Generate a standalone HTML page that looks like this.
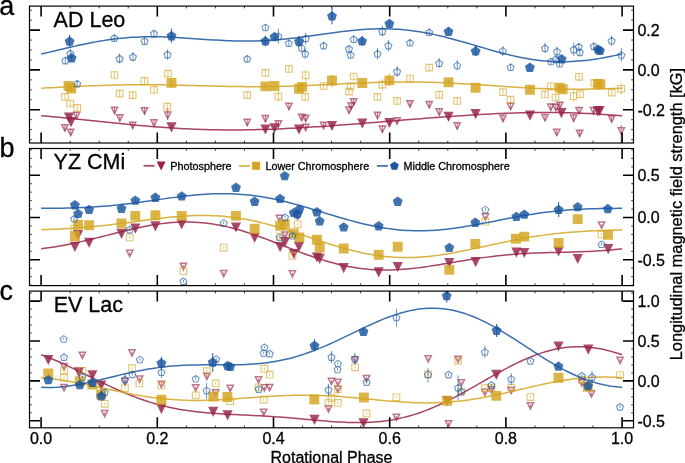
<!DOCTYPE html><html><head><meta charset="utf-8"><style>html,body{margin:0;padding:0;background:#fff;}svg{display:block;}text{font-family:"Liberation Sans",sans-serif;fill:#000;stroke:#000;stroke-width:0.3px;}</style></head><body>
<svg width="685" height="463" viewBox="0 0 685 463">
<rect width="685" height="463" fill="#fff"/>
<clipPath id="clipA"><rect x="29.5" y="6.1" width="604" height="136.9"/></clipPath>
<g clip-path="url(#clipA)">
<path d="M73.55 112.35L79.85 112.35L76.7 118.65Z" fill="none" stroke="#962347" stroke-opacity="0.62" stroke-width="1.5" stroke-linejoin="miter"/>
<path d="M76.7 112.2V118.8" stroke="#962347" stroke-opacity="0.62" stroke-width="1"/>
<path d="M61.75 124.65L68.05 124.65L64.9 130.95Z" fill="none" stroke="#962347" stroke-opacity="0.62" stroke-width="1.5" stroke-linejoin="miter"/>
<path d="M64.9 124.5V131.1" stroke="#962347" stroke-opacity="0.62" stroke-width="1"/>
<path d="M67.55 129.15L73.85 129.15L70.7 135.45Z" fill="none" stroke="#962347" stroke-opacity="0.62" stroke-width="1.5" stroke-linejoin="miter"/>
<path d="M70.7 129V135.6" stroke="#962347" stroke-opacity="0.62" stroke-width="1"/>
<path d="M111.35 107.15L117.65 107.15L114.5 113.45Z" fill="none" stroke="#962347" stroke-opacity="0.62" stroke-width="1.5" stroke-linejoin="miter"/>
<path d="M114.5 107V113.6" stroke="#962347" stroke-opacity="0.62" stroke-width="1"/>
<path d="M116.65 114.75L122.95 114.75L119.8 121.05Z" fill="none" stroke="#962347" stroke-opacity="0.62" stroke-width="1.5" stroke-linejoin="miter"/>
<path d="M119.8 114.6V121.2" stroke="#962347" stroke-opacity="0.62" stroke-width="1"/>
<path d="M129.55 122.15L135.85 122.15L132.7 128.45Z" fill="none" stroke="#962347" stroke-opacity="0.62" stroke-width="1.5" stroke-linejoin="miter"/>
<path d="M132.7 122V128.6" stroke="#962347" stroke-opacity="0.62" stroke-width="1"/>
<path d="M141.35 107.65L147.65 107.65L144.5 113.95Z" fill="none" stroke="#962347" stroke-opacity="0.62" stroke-width="1.5" stroke-linejoin="miter"/>
<path d="M144.5 107.5V114.1" stroke="#962347" stroke-opacity="0.62" stroke-width="1"/>
<path d="M150.85 119.85L157.15 119.85L154 126.15Z" fill="none" stroke="#962347" stroke-opacity="0.62" stroke-width="1.5" stroke-linejoin="miter"/>
<path d="M154 119.7V126.3" stroke="#962347" stroke-opacity="0.62" stroke-width="1"/>
<path d="M164.55 111.95L170.85 111.95L167.7 118.25Z" fill="none" stroke="#962347" stroke-opacity="0.62" stroke-width="1.5" stroke-linejoin="miter"/>
<path d="M167.7 108V120" stroke="#962347" stroke-opacity="0.62" stroke-width="1"/>
<path d="M244.05 119.35L250.35 119.35L247.2 125.65Z" fill="none" stroke="#962347" stroke-opacity="0.62" stroke-width="1.5" stroke-linejoin="miter"/>
<path d="M247.2 119.2V125.8" stroke="#962347" stroke-opacity="0.62" stroke-width="1"/>
<path d="M262.25 115.55L268.55 115.55L265.4 121.85Z" fill="none" stroke="#962347" stroke-opacity="0.62" stroke-width="1.5" stroke-linejoin="miter"/>
<path d="M265.4 115.4V122" stroke="#962347" stroke-opacity="0.62" stroke-width="1"/>
<path d="M285.75 103.25L292.05 103.25L288.9 109.55Z" fill="none" stroke="#962347" stroke-opacity="0.62" stroke-width="1.5" stroke-linejoin="miter"/>
<path d="M288.9 103.1V109.7" stroke="#962347" stroke-opacity="0.62" stroke-width="1"/>
<path d="M298.55 114.15L304.85 114.15L301.7 120.45Z" fill="none" stroke="#962347" stroke-opacity="0.62" stroke-width="1.5" stroke-linejoin="miter"/>
<path d="M301.7 114V120.6" stroke="#962347" stroke-opacity="0.62" stroke-width="1"/>
<path d="M302.55 115.15L308.85 115.15L305.7 121.45Z" fill="none" stroke="#962347" stroke-opacity="0.62" stroke-width="1.5" stroke-linejoin="miter"/>
<path d="M305.7 115V121.6" stroke="#962347" stroke-opacity="0.62" stroke-width="1"/>
<path d="M275.25 120.75L281.55 120.75L278.4 127.05Z" fill="none" stroke="#962347" stroke-opacity="0.62" stroke-width="1.5" stroke-linejoin="miter"/>
<path d="M278.4 120.6V127.2" stroke="#962347" stroke-opacity="0.62" stroke-width="1"/>
<path d="M302.55 124.25L308.85 124.25L305.7 130.55Z" fill="none" stroke="#962347" stroke-opacity="0.62" stroke-width="1.5" stroke-linejoin="miter"/>
<path d="M305.7 124.1V130.7" stroke="#962347" stroke-opacity="0.62" stroke-width="1"/>
<path d="M320.45 122.15L326.75 122.15L323.6 128.45Z" fill="none" stroke="#962347" stroke-opacity="0.62" stroke-width="1.5" stroke-linejoin="miter"/>
<path d="M323.6 122V128.6" stroke="#962347" stroke-opacity="0.62" stroke-width="1"/>
<path d="M350.55 98.85L356.85 98.85L353.7 105.15Z" fill="none" stroke="#962347" stroke-opacity="0.62" stroke-width="1.5" stroke-linejoin="miter"/>
<path d="M353.7 98.7V105.3" stroke="#962347" stroke-opacity="0.62" stroke-width="1"/>
<path d="M348.15 102.85L354.45 102.85L351.3 109.15Z" fill="none" stroke="#962347" stroke-opacity="0.62" stroke-width="1.5" stroke-linejoin="miter"/>
<path d="M351.3 102.7V109.3" stroke="#962347" stroke-opacity="0.62" stroke-width="1"/>
<path d="M345.85 107.05L352.15 107.05L349 113.35Z" fill="none" stroke="#962347" stroke-opacity="0.62" stroke-width="1.5" stroke-linejoin="miter"/>
<path d="M349 106.9V113.5" stroke="#962347" stroke-opacity="0.62" stroke-width="1"/>
<path d="M374.35 112.35L380.65 112.35L377.5 118.65Z" fill="none" stroke="#962347" stroke-opacity="0.62" stroke-width="1.5" stroke-linejoin="miter"/>
<path d="M377.5 112.2V118.8" stroke="#962347" stroke-opacity="0.62" stroke-width="1"/>
<path d="M379.25 126.05L385.55 126.05L382.4 132.35Z" fill="none" stroke="#962347" stroke-opacity="0.62" stroke-width="1.5" stroke-linejoin="miter"/>
<path d="M382.4 125.9V132.5" stroke="#962347" stroke-opacity="0.62" stroke-width="1"/>
<path d="M393.95 117.65L400.25 117.65L397.1 123.95Z" fill="none" stroke="#962347" stroke-opacity="0.62" stroke-width="1.5" stroke-linejoin="miter"/>
<path d="M397.1 117.5V124.1" stroke="#962347" stroke-opacity="0.62" stroke-width="1"/>
<path d="M406.85 100.65L413.15 100.65L410 106.95Z" fill="none" stroke="#962347" stroke-opacity="0.62" stroke-width="1.5" stroke-linejoin="miter"/>
<path d="M410 100.5V107.1" stroke="#962347" stroke-opacity="0.62" stroke-width="1"/>
<path d="M426.05 101.45L432.35 101.45L429.2 107.75Z" fill="none" stroke="#962347" stroke-opacity="0.62" stroke-width="1.5" stroke-linejoin="miter"/>
<path d="M429.2 101.3V107.9" stroke="#962347" stroke-opacity="0.62" stroke-width="1"/>
<path d="M436.05 108.85L442.35 108.85L439.2 115.15Z" fill="none" stroke="#962347" stroke-opacity="0.62" stroke-width="1.5" stroke-linejoin="miter"/>
<path d="M439.2 108.7V115.3" stroke="#962347" stroke-opacity="0.62" stroke-width="1"/>
<path d="M454.05 122.85L460.35 122.85L457.2 129.15Z" fill="none" stroke="#962347" stroke-opacity="0.62" stroke-width="1.5" stroke-linejoin="miter"/>
<path d="M457.2 122.7V129.3" stroke="#962347" stroke-opacity="0.62" stroke-width="1"/>
<path d="M499.85 115.15L506.15 115.15L503 121.45Z" fill="none" stroke="#962347" stroke-opacity="0.62" stroke-width="1.5" stroke-linejoin="miter"/>
<path d="M503 115V121.6" stroke="#962347" stroke-opacity="0.62" stroke-width="1"/>
<path d="M507.45 103.25L513.75 103.25L510.6 109.55Z" fill="none" stroke="#962347" stroke-opacity="0.62" stroke-width="1.5" stroke-linejoin="miter"/>
<path d="M510.6 103.1V109.7" stroke="#962347" stroke-opacity="0.62" stroke-width="1"/>
<path d="M541.85 114.55L548.15 114.55L545 120.85Z" fill="none" stroke="#962347" stroke-opacity="0.62" stroke-width="1.5" stroke-linejoin="miter"/>
<path d="M545 114.4V121" stroke="#962347" stroke-opacity="0.62" stroke-width="1"/>
<path d="M547.65 104.05L553.95 104.05L550.8 110.35Z" fill="none" stroke="#962347" stroke-opacity="0.62" stroke-width="1.5" stroke-linejoin="miter"/>
<path d="M550.8 103.9V110.5" stroke="#962347" stroke-opacity="0.62" stroke-width="1"/>
<path d="M552.65 104.25L558.95 104.25L555.8 110.55Z" fill="none" stroke="#962347" stroke-opacity="0.62" stroke-width="1.5" stroke-linejoin="miter"/>
<path d="M555.8 104.1V110.7" stroke="#962347" stroke-opacity="0.62" stroke-width="1"/>
<path d="M556.65 102.15L562.95 102.15L559.8 108.45Z" fill="none" stroke="#962347" stroke-opacity="0.62" stroke-width="1.5" stroke-linejoin="miter"/>
<path d="M559.8 102V108.6" stroke="#962347" stroke-opacity="0.62" stroke-width="1"/>
<path d="M570.55 114.95L576.85 114.95L573.7 121.25Z" fill="none" stroke="#962347" stroke-opacity="0.62" stroke-width="1.5" stroke-linejoin="miter"/>
<path d="M573.7 114.8V121.4" stroke="#962347" stroke-opacity="0.62" stroke-width="1"/>
<path d="M575.85 107.55L582.15 107.55L579 113.85Z" fill="none" stroke="#962347" stroke-opacity="0.62" stroke-width="1.5" stroke-linejoin="miter"/>
<path d="M579 107.4V114" stroke="#962347" stroke-opacity="0.62" stroke-width="1"/>
<path d="M590.35 107.55L596.65 107.55L593.5 113.85Z" fill="none" stroke="#962347" stroke-opacity="0.62" stroke-width="1.5" stroke-linejoin="miter"/>
<path d="M593.5 107.4V114" stroke="#962347" stroke-opacity="0.62" stroke-width="1"/>
<path d="M608.55 115.65L614.85 115.65L611.7 121.95Z" fill="none" stroke="#962347" stroke-opacity="0.62" stroke-width="1.5" stroke-linejoin="miter"/>
<path d="M611.7 115.5V122.1" stroke="#962347" stroke-opacity="0.62" stroke-width="1"/>
<path d="M553.65 129.35L559.95 129.35L556.8 135.65Z" fill="none" stroke="#962347" stroke-opacity="0.62" stroke-width="1.5" stroke-linejoin="miter"/>
<path d="M556.8 129.2V135.8" stroke="#962347" stroke-opacity="0.62" stroke-width="1"/>
<path d="M576.45 130.15L582.75 130.15L579.6 136.45Z" fill="none" stroke="#962347" stroke-opacity="0.62" stroke-width="1.5" stroke-linejoin="miter"/>
<path d="M579.6 130V136.6" stroke="#962347" stroke-opacity="0.62" stroke-width="1"/>
<path d="M618.05 127.75L624.35 127.75L621.2 134.05Z" fill="none" stroke="#962347" stroke-opacity="0.62" stroke-width="1.5" stroke-linejoin="miter"/>
<path d="M621.2 125V143" stroke="#962347" stroke-opacity="0.62" stroke-width="1"/>
<path d="M41.1 115.73 L44.75 116.03 L48.41 116.34 L52.06 116.67 L55.72 117 L59.37 117.34 L63.02 117.69 L66.68 118.04 L70.33 118.4 L73.99 118.77 L77.64 119.14 L81.29 119.52 L84.95 119.9 L88.6 120.28 L92.26 120.66 L95.91 121.05 L99.57 121.44 L103.22 121.82 L106.87 122.2 L110.53 122.59 L114.18 122.96 L117.84 123.34 L121.49 123.71 L125.14 124.08 L128.8 124.43 L132.45 124.79 L136.11 125.13 L139.76 125.47 L143.41 125.8 L147.07 126.12 L150.72 126.42 L154.38 126.72 L158.03 127.01 L161.68 127.29 L165.34 127.55 L168.99 127.8 L172.65 128.04 L176.3 128.27 L179.96 128.48 L183.61 128.68 L187.26 128.86 L190.92 129.03 L194.57 129.19 L198.23 129.33 L201.88 129.45 L205.53 129.56 L209.19 129.66 L212.84 129.74 L216.5 129.81 L220.15 129.86 L223.8 129.9 L227.46 129.93 L231.11 129.94 L234.77 129.93 L238.42 129.91 L242.07 129.88 L245.73 129.84 L249.38 129.78 L253.04 129.71 L256.69 129.62 L260.35 129.53 L264 129.42 L267.65 129.3 L271.31 129.17 L274.96 129.03 L278.62 128.88 L282.27 128.71 L285.92 128.54 L289.58 128.36 L293.23 128.17 L296.89 127.98 L300.54 127.77 L304.19 127.56 L307.85 127.34 L311.5 127.11 L315.16 126.87 L318.81 126.63 L322.46 126.39 L326.12 126.14 L329.77 125.88 L333.43 125.62 L337.08 125.35 L340.74 125.08 L344.39 124.81 L348.04 124.53 L351.7 124.25 L355.35 123.96 L359.01 123.68 L362.66 123.39 L366.31 123.1 L369.97 122.8 L373.62 122.51 L377.28 122.21 L380.93 121.91 L384.58 121.62 L388.24 121.32 L391.89 121.02 L395.55 120.72 L399.2 120.42 L402.85 120.12 L406.51 119.83 L410.16 119.53 L413.82 119.23 L417.47 118.94 L421.13 118.65 L424.78 118.36 L428.43 118.07 L432.09 117.79 L435.74 117.51 L439.4 117.23 L443.05 116.96 L446.7 116.69 L450.36 116.43 L454.01 116.17 L457.67 115.92 L461.32 115.67 L464.97 115.43 L468.63 115.19 L472.28 114.96 L475.94 114.74 L479.59 114.53 L483.24 114.32 L486.9 114.13 L490.55 113.94 L494.21 113.76 L497.86 113.59 L501.52 113.43 L505.17 113.29 L508.82 113.15 L512.48 113.03 L516.13 112.91 L519.79 112.81 L523.44 112.72 L527.09 112.65 L530.75 112.59 L534.4 112.54 L538.06 112.5 L541.71 112.48 L545.36 112.48 L549.02 112.49 L552.67 112.51 L556.33 112.55 L559.98 112.6 L563.63 112.67 L567.29 112.75 L570.94 112.85 L574.6 112.96 L578.25 113.09 L581.91 113.23 L585.56 113.39 L589.21 113.56 L592.87 113.75 L596.52 113.95 L600.18 114.17 L603.83 114.4 L607.48 114.64 L611.14 114.89 L614.79 115.16 L618.45 115.44 L622.1 115.73" fill="none" stroke="#962347" stroke-opacity="0.85" stroke-width="1.5" stroke-linejoin="round"/>
<path d="M63.9 112.5L74.1 112.5L69 122.7Z" fill="#962347" fill-opacity="0.82"/>
<path d="M69 114.1V121.1" stroke="#962347" stroke-opacity="0.5" stroke-width="1"/>
<path d="M65.9 117L76.1 117L71 127.2Z" fill="#962347" fill-opacity="0.82"/>
<path d="M71 118.6V125.6" stroke="#962347" stroke-opacity="0.5" stroke-width="1"/>
<path d="M166.4 122.3L176.6 122.3L171.5 132.5Z" fill="#962347" fill-opacity="0.82"/>
<path d="M171.5 123.9V130.9" stroke="#962347" stroke-opacity="0.5" stroke-width="1"/>
<path d="M260.3 124.4L270.5 124.4L265.4 134.6Z" fill="#962347" fill-opacity="0.82"/>
<path d="M265.4 126V133" stroke="#962347" stroke-opacity="0.5" stroke-width="1"/>
<path d="M269.4 123.2L279.6 123.2L274.5 133.4Z" fill="#962347" fill-opacity="0.82"/>
<path d="M274.5 124.8V131.8" stroke="#962347" stroke-opacity="0.5" stroke-width="1"/>
<path d="M293.9 124.4L304.1 124.4L299 134.6Z" fill="#962347" fill-opacity="0.82"/>
<path d="M299 126V133" stroke="#962347" stroke-opacity="0.5" stroke-width="1"/>
<path d="M326.9 120.9L337.1 120.9L332 131.1Z" fill="#962347" fill-opacity="0.82"/>
<path d="M332 122.5V129.5" stroke="#962347" stroke-opacity="0.5" stroke-width="1"/>
<path d="M357.2 118.4L367.4 118.4L362.3 128.6Z" fill="#962347" fill-opacity="0.82"/>
<path d="M362.3 120V127" stroke="#962347" stroke-opacity="0.5" stroke-width="1"/>
<path d="M384.3 117.9L394.5 117.9L389.4 128.1Z" fill="#962347" fill-opacity="0.82"/>
<path d="M389.4 119.5V126.5" stroke="#962347" stroke-opacity="0.5" stroke-width="1"/>
<path d="M443.4 111.8L453.6 111.8L448.5 122Z" fill="#962347" fill-opacity="0.82"/>
<path d="M448.5 113.4V120.4" stroke="#962347" stroke-opacity="0.5" stroke-width="1"/>
<path d="M470.5 109L480.7 109L475.6 119.2Z" fill="#962347" fill-opacity="0.82"/>
<path d="M475.6 110.6V117.6" stroke="#962347" stroke-opacity="0.5" stroke-width="1"/>
<path d="M524.9 110.5L535.1 110.5L530 120.7Z" fill="#962347" fill-opacity="0.82"/>
<path d="M530 112.1V119.1" stroke="#962347" stroke-opacity="0.5" stroke-width="1"/>
<path d="M556.3 108L566.5 108L561.4 118.2Z" fill="#962347" fill-opacity="0.82"/>
<path d="M561.4 109.6V116.6" stroke="#962347" stroke-opacity="0.5" stroke-width="1"/>
<path d="M592.8 106.3L603 106.3L597.9 116.5Z" fill="#962347" fill-opacity="0.82"/>
<path d="M597.9 107.9V114.9" stroke="#962347" stroke-opacity="0.5" stroke-width="1"/>
<path d="M594.5 105.9L604.7 105.9L599.6 116.1Z" fill="#962347" fill-opacity="0.82"/>
<path d="M599.6 107.5V114.5" stroke="#962347" stroke-opacity="0.5" stroke-width="1"/>
<path d="M61.6 93.6h6.6v6.6h-6.6Z" fill="none" stroke="#d4a520" stroke-opacity="0.62" stroke-width="1.15" stroke-linejoin="miter"/>
<path d="M64.9 93.6V100.2" stroke="#d4a520" stroke-opacity="0.62" stroke-width="1"/>
<path d="M66.9 100.2h6.6v6.6h-6.6Z" fill="none" stroke="#d4a520" stroke-opacity="0.62" stroke-width="1.15" stroke-linejoin="miter"/>
<path d="M70.2 100.2V106.8" stroke="#d4a520" stroke-opacity="0.62" stroke-width="1"/>
<path d="M73.9 104.6h6.6v6.6h-6.6Z" fill="none" stroke="#d4a520" stroke-opacity="0.62" stroke-width="1.15" stroke-linejoin="miter"/>
<path d="M77.2 104.6V111.2" stroke="#d4a520" stroke-opacity="0.62" stroke-width="1"/>
<path d="M111.2 71.7h6.6v6.6h-6.6Z" fill="none" stroke="#d4a520" stroke-opacity="0.62" stroke-width="1.15" stroke-linejoin="miter"/>
<path d="M114.5 71.7V78.3" stroke="#d4a520" stroke-opacity="0.62" stroke-width="1"/>
<path d="M116.4 90.3h6.6v6.6h-6.6Z" fill="none" stroke="#d4a520" stroke-opacity="0.62" stroke-width="1.15" stroke-linejoin="miter"/>
<path d="M119.7 90.3V96.9" stroke="#d4a520" stroke-opacity="0.62" stroke-width="1"/>
<path d="M129.4 91.8h6.6v6.6h-6.6Z" fill="none" stroke="#d4a520" stroke-opacity="0.62" stroke-width="1.15" stroke-linejoin="miter"/>
<path d="M132.7 91.8V98.4" stroke="#d4a520" stroke-opacity="0.62" stroke-width="1"/>
<path d="M141.2 77.6h6.6v6.6h-6.6Z" fill="none" stroke="#d4a520" stroke-opacity="0.62" stroke-width="1.15" stroke-linejoin="miter"/>
<path d="M144.5 77.6V84.2" stroke="#d4a520" stroke-opacity="0.62" stroke-width="1"/>
<path d="M150.7 86.6h6.6v6.6h-6.6Z" fill="none" stroke="#d4a520" stroke-opacity="0.62" stroke-width="1.15" stroke-linejoin="miter"/>
<path d="M154 86.6V93.2" stroke="#d4a520" stroke-opacity="0.62" stroke-width="1"/>
<path d="M164.7 70.3h6.6v6.6h-6.6Z" fill="none" stroke="#d4a520" stroke-opacity="0.62" stroke-width="1.15" stroke-linejoin="miter"/>
<path d="M168 70.3V76.9" stroke="#d4a520" stroke-opacity="0.62" stroke-width="1"/>
<path d="M163.9 103.4h6.6v6.6h-6.6Z" fill="none" stroke="#d4a520" stroke-opacity="0.62" stroke-width="1.15" stroke-linejoin="miter"/>
<path d="M167.2 103.4V110" stroke="#d4a520" stroke-opacity="0.62" stroke-width="1"/>
<path d="M243.9 91.8h6.6v6.6h-6.6Z" fill="none" stroke="#d4a520" stroke-opacity="0.62" stroke-width="1.15" stroke-linejoin="miter"/>
<path d="M247.2 91.8V98.4" stroke="#d4a520" stroke-opacity="0.62" stroke-width="1"/>
<path d="M262.1 69.6h6.6v6.6h-6.6Z" fill="none" stroke="#d4a520" stroke-opacity="0.62" stroke-width="1.15" stroke-linejoin="miter"/>
<path d="M265.4 69.6V76.2" stroke="#d4a520" stroke-opacity="0.62" stroke-width="1"/>
<path d="M285.6 65.6h6.6v6.6h-6.6Z" fill="none" stroke="#d4a520" stroke-opacity="0.62" stroke-width="1.15" stroke-linejoin="miter"/>
<path d="M288.9 65.6V72.2" stroke="#d4a520" stroke-opacity="0.62" stroke-width="1"/>
<path d="M302.4 72h6.6v6.6h-6.6Z" fill="none" stroke="#d4a520" stroke-opacity="0.62" stroke-width="1.15" stroke-linejoin="miter"/>
<path d="M305.7 69.5V81" stroke="#d4a520" stroke-opacity="0.62" stroke-width="1"/>
<path d="M275.1 93.2h6.6v6.6h-6.6Z" fill="none" stroke="#d4a520" stroke-opacity="0.62" stroke-width="1.15" stroke-linejoin="miter"/>
<path d="M278.4 91V102" stroke="#d4a520" stroke-opacity="0.62" stroke-width="1"/>
<path d="M301.9 93.6h6.6v6.6h-6.6Z" fill="none" stroke="#d4a520" stroke-opacity="0.62" stroke-width="1.15" stroke-linejoin="miter"/>
<path d="M305.2 93.6V100.2" stroke="#d4a520" stroke-opacity="0.62" stroke-width="1"/>
<path d="M320.3 82.7h6.6v6.6h-6.6Z" fill="none" stroke="#d4a520" stroke-opacity="0.62" stroke-width="1.15" stroke-linejoin="miter"/>
<path d="M323.6 82.7V89.3" stroke="#d4a520" stroke-opacity="0.62" stroke-width="1"/>
<path d="M350.4 73.2h6.6v6.6h-6.6Z" fill="none" stroke="#d4a520" stroke-opacity="0.62" stroke-width="1.15" stroke-linejoin="miter"/>
<path d="M353.7 73.2V79.8" stroke="#d4a520" stroke-opacity="0.62" stroke-width="1"/>
<path d="M347.4 83.1h6.6v6.6h-6.6Z" fill="none" stroke="#d4a520" stroke-opacity="0.62" stroke-width="1.15" stroke-linejoin="miter"/>
<path d="M350.7 83.1V89.7" stroke="#d4a520" stroke-opacity="0.62" stroke-width="1"/>
<path d="M345.7 88.3h6.6v6.6h-6.6Z" fill="none" stroke="#d4a520" stroke-opacity="0.62" stroke-width="1.15" stroke-linejoin="miter"/>
<path d="M349 88.3V94.9" stroke="#d4a520" stroke-opacity="0.62" stroke-width="1"/>
<path d="M379.1 81.3h6.6v6.6h-6.6Z" fill="none" stroke="#d4a520" stroke-opacity="0.62" stroke-width="1.15" stroke-linejoin="miter"/>
<path d="M382.4 79V90" stroke="#d4a520" stroke-opacity="0.62" stroke-width="1"/>
<path d="M406.7 75.2h6.6v6.6h-6.6Z" fill="none" stroke="#d4a520" stroke-opacity="0.62" stroke-width="1.15" stroke-linejoin="miter"/>
<path d="M410 75.2V81.8" stroke="#d4a520" stroke-opacity="0.62" stroke-width="1"/>
<path d="M425.9 64.3h6.6v6.6h-6.6Z" fill="none" stroke="#d4a520" stroke-opacity="0.62" stroke-width="1.15" stroke-linejoin="miter"/>
<path d="M429.2 64.3V70.9" stroke="#d4a520" stroke-opacity="0.62" stroke-width="1"/>
<path d="M374.2 93.6h6.6v6.6h-6.6Z" fill="none" stroke="#d4a520" stroke-opacity="0.62" stroke-width="1.15" stroke-linejoin="miter"/>
<path d="M377.5 93.6V100.2" stroke="#d4a520" stroke-opacity="0.62" stroke-width="1"/>
<path d="M393.8 97.6h6.6v6.6h-6.6Z" fill="none" stroke="#d4a520" stroke-opacity="0.62" stroke-width="1.15" stroke-linejoin="miter"/>
<path d="M397.1 97.6V104.2" stroke="#d4a520" stroke-opacity="0.62" stroke-width="1"/>
<path d="M435.9 91.5h6.6v6.6h-6.6Z" fill="none" stroke="#d4a520" stroke-opacity="0.62" stroke-width="1.15" stroke-linejoin="miter"/>
<path d="M439.2 91.5V98.1" stroke="#d4a520" stroke-opacity="0.62" stroke-width="1"/>
<path d="M453.9 97.6h6.6v6.6h-6.6Z" fill="none" stroke="#d4a520" stroke-opacity="0.62" stroke-width="1.15" stroke-linejoin="miter"/>
<path d="M457.2 97.6V104.2" stroke="#d4a520" stroke-opacity="0.62" stroke-width="1"/>
<path d="M499.7 88.9h6.6v6.6h-6.6Z" fill="none" stroke="#d4a520" stroke-opacity="0.62" stroke-width="1.15" stroke-linejoin="miter"/>
<path d="M503 88.9V95.5" stroke="#d4a520" stroke-opacity="0.62" stroke-width="1"/>
<path d="M507.3 96.4h6.6v6.6h-6.6Z" fill="none" stroke="#d4a520" stroke-opacity="0.62" stroke-width="1.15" stroke-linejoin="miter"/>
<path d="M510.6 96.4V103" stroke="#d4a520" stroke-opacity="0.62" stroke-width="1"/>
<path d="M541.7 91.1h6.6v6.6h-6.6Z" fill="none" stroke="#d4a520" stroke-opacity="0.62" stroke-width="1.15" stroke-linejoin="miter"/>
<path d="M545 91.1V97.7" stroke="#d4a520" stroke-opacity="0.62" stroke-width="1"/>
<path d="M547.5 83h6.6v6.6h-6.6Z" fill="none" stroke="#d4a520" stroke-opacity="0.62" stroke-width="1.15" stroke-linejoin="miter"/>
<path d="M550.8 83V89.6" stroke="#d4a520" stroke-opacity="0.62" stroke-width="1"/>
<path d="M552.2 94.1h6.6v6.6h-6.6Z" fill="none" stroke="#d4a520" stroke-opacity="0.62" stroke-width="1.15" stroke-linejoin="miter"/>
<path d="M555.5 94.1V100.7" stroke="#d4a520" stroke-opacity="0.62" stroke-width="1"/>
<path d="M570.4 92.9h6.6v6.6h-6.6Z" fill="none" stroke="#d4a520" stroke-opacity="0.62" stroke-width="1.15" stroke-linejoin="miter"/>
<path d="M573.7 90.5V102" stroke="#d4a520" stroke-opacity="0.62" stroke-width="1"/>
<path d="M576.7 90.9h6.6v6.6h-6.6Z" fill="none" stroke="#d4a520" stroke-opacity="0.62" stroke-width="1.15" stroke-linejoin="miter"/>
<path d="M580 90.9V97.5" stroke="#d4a520" stroke-opacity="0.62" stroke-width="1"/>
<path d="M575.7 73.5h6.6v6.6h-6.6Z" fill="none" stroke="#d4a520" stroke-opacity="0.62" stroke-width="1.15" stroke-linejoin="miter"/>
<path d="M579 73.5V80.1" stroke="#d4a520" stroke-opacity="0.62" stroke-width="1"/>
<path d="M591.1 79.8h6.6v6.6h-6.6Z" fill="none" stroke="#d4a520" stroke-opacity="0.62" stroke-width="1.15" stroke-linejoin="miter"/>
<path d="M594.4 79.8V86.4" stroke="#d4a520" stroke-opacity="0.62" stroke-width="1"/>
<path d="M608.4 89.3h6.6v6.6h-6.6Z" fill="none" stroke="#d4a520" stroke-opacity="0.62" stroke-width="1.15" stroke-linejoin="miter"/>
<path d="M611.7 89.3V95.9" stroke="#d4a520" stroke-opacity="0.62" stroke-width="1"/>
<path d="M617.9 85.5h6.6v6.6h-6.6Z" fill="none" stroke="#d4a520" stroke-opacity="0.62" stroke-width="1.15" stroke-linejoin="miter"/>
<path d="M621.2 83V94.5" stroke="#d4a520" stroke-opacity="0.62" stroke-width="1"/>
<path d="M41.1 88.13 L44.75 87.97 L48.41 87.81 L52.06 87.64 L55.72 87.47 L59.37 87.29 L63.02 87.12 L66.68 86.94 L70.33 86.77 L73.99 86.6 L77.64 86.43 L81.29 86.26 L84.95 86.1 L88.6 85.94 L92.26 85.79 L95.91 85.65 L99.57 85.51 L103.22 85.39 L106.87 85.27 L110.53 85.17 L114.18 85.07 L117.84 84.98 L121.49 84.91 L125.14 84.85 L128.8 84.8 L132.45 84.76 L136.11 84.73 L139.76 84.71 L143.41 84.71 L147.07 84.71 L150.72 84.73 L154.38 84.76 L158.03 84.8 L161.68 84.84 L165.34 84.9 L168.99 84.96 L172.65 85.03 L176.3 85.11 L179.96 85.2 L183.61 85.28 L187.26 85.38 L190.92 85.47 L194.57 85.57 L198.23 85.67 L201.88 85.77 L205.53 85.87 L209.19 85.97 L212.84 86.06 L216.5 86.15 L220.15 86.24 L223.8 86.32 L227.46 86.4 L231.11 86.46 L234.77 86.53 L238.42 86.58 L242.07 86.62 L245.73 86.65 L249.38 86.68 L253.04 86.69 L256.69 86.69 L260.35 86.68 L264 86.66 L267.65 86.62 L271.31 86.58 L274.96 86.52 L278.62 86.45 L282.27 86.37 L285.92 86.28 L289.58 86.17 L293.23 86.06 L296.89 85.94 L300.54 85.81 L304.19 85.66 L307.85 85.51 L311.5 85.36 L315.16 85.19 L318.81 85.03 L322.46 84.85 L326.12 84.68 L329.77 84.5 L333.43 84.32 L337.08 84.13 L340.74 83.95 L344.39 83.77 L348.04 83.6 L351.7 83.42 L355.35 83.26 L359.01 83.09 L362.66 82.94 L366.31 82.79 L369.97 82.65 L373.62 82.53 L377.28 82.41 L380.93 82.3 L384.58 82.21 L388.24 82.13 L391.89 82.07 L395.55 82.01 L399.2 81.98 L402.85 81.96 L406.51 81.95 L410.16 81.96 L413.82 81.99 L417.47 82.03 L421.13 82.09 L424.78 82.16 L428.43 82.25 L432.09 82.35 L435.74 82.47 L439.4 82.61 L443.05 82.76 L446.7 82.92 L450.36 83.09 L454.01 83.28 L457.67 83.47 L461.32 83.68 L464.97 83.9 L468.63 84.12 L472.28 84.35 L475.94 84.59 L479.59 84.83 L483.24 85.08 L486.9 85.32 L490.55 85.57 L494.21 85.82 L497.86 86.07 L501.52 86.32 L505.17 86.56 L508.82 86.79 L512.48 87.03 L516.13 87.25 L519.79 87.47 L523.44 87.67 L527.09 87.87 L530.75 88.06 L534.4 88.23 L538.06 88.4 L541.71 88.54 L545.36 88.68 L549.02 88.8 L552.67 88.91 L556.33 89 L559.98 89.07 L563.63 89.13 L567.29 89.18 L570.94 89.21 L574.6 89.22 L578.25 89.21 L581.91 89.2 L585.56 89.16 L589.21 89.11 L592.87 89.05 L596.52 88.98 L600.18 88.89 L603.83 88.79 L607.48 88.67 L611.14 88.55 L614.79 88.42 L618.45 88.27 L622.1 88.13" fill="none" stroke="#d4a520" stroke-opacity="0.85" stroke-width="1.5" stroke-linejoin="round"/>
<path d="M63.55 81.05h9.9v9.9h-9.9Z" fill="#d4a520" fill-opacity="0.82"/>
<path d="M68.5 82.5V89.5" stroke="#d4a520" stroke-opacity="0.5" stroke-width="1"/>
<path d="M66.35 83.55h9.9v9.9h-9.9Z" fill="#d4a520" fill-opacity="0.82"/>
<path d="M71.3 85V92" stroke="#d4a520" stroke-opacity="0.5" stroke-width="1"/>
<path d="M166.55 77.95h9.9v9.9h-9.9Z" fill="#d4a520" fill-opacity="0.82"/>
<path d="M171.5 78V88" stroke="#d4a520" stroke-opacity="0.82" stroke-width="1.2"/>
<path d="M260.45 81.45h9.9v9.9h-9.9Z" fill="#d4a520" fill-opacity="0.82"/>
<path d="M265.4 82.9V89.9" stroke="#d4a520" stroke-opacity="0.5" stroke-width="1"/>
<path d="M269.55 81.05h9.9v9.9h-9.9Z" fill="#d4a520" fill-opacity="0.82"/>
<path d="M274.5 82.5V89.5" stroke="#d4a520" stroke-opacity="0.5" stroke-width="1"/>
<path d="M294.05 83.75h9.9v9.9h-9.9Z" fill="#d4a520" fill-opacity="0.82"/>
<path d="M299 85.2V92.2" stroke="#d4a520" stroke-opacity="0.5" stroke-width="1"/>
<path d="M297.25 81.95h9.9v9.9h-9.9Z" fill="#d4a520" fill-opacity="0.82"/>
<path d="M302.2 83.4V90.4" stroke="#d4a520" stroke-opacity="0.5" stroke-width="1"/>
<path d="M327.05 75.55h9.9v9.9h-9.9Z" fill="#d4a520" fill-opacity="0.82"/>
<path d="M332 75V87" stroke="#d4a520" stroke-opacity="0.82" stroke-width="1.2"/>
<path d="M357.35 78.05h9.9v9.9h-9.9Z" fill="#d4a520" fill-opacity="0.82"/>
<path d="M362.3 79.5V86.5" stroke="#d4a520" stroke-opacity="0.5" stroke-width="1"/>
<path d="M384.45 75.45h9.9v9.9h-9.9Z" fill="#d4a520" fill-opacity="0.82"/>
<path d="M389.4 74V86" stroke="#d4a520" stroke-opacity="0.82" stroke-width="1.2"/>
<path d="M443.55 77.25h9.9v9.9h-9.9Z" fill="#d4a520" fill-opacity="0.82"/>
<path d="M448.5 78.7V85.7" stroke="#d4a520" stroke-opacity="0.5" stroke-width="1"/>
<path d="M470.65 82.85h9.9v9.9h-9.9Z" fill="#d4a520" fill-opacity="0.82"/>
<path d="M475.6 84.3V91.3" stroke="#d4a520" stroke-opacity="0.5" stroke-width="1"/>
<path d="M524.95 84.75h9.9v9.9h-9.9Z" fill="#d4a520" fill-opacity="0.82"/>
<path d="M529.9 86.2V93.2" stroke="#d4a520" stroke-opacity="0.5" stroke-width="1"/>
<path d="M554.65 82.65h9.9v9.9h-9.9Z" fill="#d4a520" fill-opacity="0.82"/>
<path d="M559.6 84.1V91.1" stroke="#d4a520" stroke-opacity="0.5" stroke-width="1"/>
<path d="M557.75 84.35h9.9v9.9h-9.9Z" fill="#d4a520" fill-opacity="0.82"/>
<path d="M562.7 85.8V92.8" stroke="#d4a520" stroke-opacity="0.5" stroke-width="1"/>
<path d="M592.95 79.05h9.9v9.9h-9.9Z" fill="#d4a520" fill-opacity="0.82"/>
<path d="M597.9 80.5V87.5" stroke="#d4a520" stroke-opacity="0.5" stroke-width="1"/>
<path d="M595.45 79.35h9.9v9.9h-9.9Z" fill="#d4a520" fill-opacity="0.82"/>
<path d="M600.4 80.8V87.8" stroke="#d4a520" stroke-opacity="0.5" stroke-width="1"/>
<path d="M70.3 50.3L73.77 52.82L72.44 56.9L68.16 56.9L66.83 52.82Z" fill="none" stroke="#1955a0" stroke-opacity="0.62" stroke-width="1.15" stroke-linejoin="miter"/>
<path d="M70.3 49V58" stroke="#1955a0" stroke-opacity="0.62" stroke-width="1"/>
<path d="M65.3 57.3L68.77 59.82L67.44 63.9L63.16 63.9L61.83 59.82Z" fill="none" stroke="#1955a0" stroke-opacity="0.62" stroke-width="1.15" stroke-linejoin="miter"/>
<path d="M65.3 57.3V63.9" stroke="#1955a0" stroke-opacity="0.62" stroke-width="1"/>
<path d="M114.3 34.7L117.77 37.22L116.44 41.3L112.16 41.3L110.83 37.22Z" fill="none" stroke="#1955a0" stroke-opacity="0.62" stroke-width="1.15" stroke-linejoin="miter"/>
<path d="M114.3 34.7V41.3" stroke="#1955a0" stroke-opacity="0.62" stroke-width="1"/>
<path d="M119.6 55.2L123.07 57.72L121.74 61.8L117.46 61.8L116.13 57.72Z" fill="none" stroke="#1955a0" stroke-opacity="0.62" stroke-width="1.15" stroke-linejoin="miter"/>
<path d="M119.6 53.5V63.5" stroke="#1955a0" stroke-opacity="0.62" stroke-width="1"/>
<path d="M132.9 53.5L136.37 56.02L135.04 60.1L130.76 60.1L129.43 56.02Z" fill="none" stroke="#1955a0" stroke-opacity="0.62" stroke-width="1.15" stroke-linejoin="miter"/>
<path d="M132.9 52V61.5" stroke="#1955a0" stroke-opacity="0.62" stroke-width="1"/>
<path d="M144.6 37.7L148.07 40.22L146.74 44.3L142.46 44.3L141.13 40.22Z" fill="none" stroke="#1955a0" stroke-opacity="0.62" stroke-width="1.15" stroke-linejoin="miter"/>
<path d="M144.6 37.7V44.3" stroke="#1955a0" stroke-opacity="0.62" stroke-width="1"/>
<path d="M154 30.3L157.47 32.82L156.14 36.9L151.86 36.9L150.53 32.82Z" fill="none" stroke="#1955a0" stroke-opacity="0.62" stroke-width="1.15" stroke-linejoin="miter"/>
<path d="M154 30.3V36.9" stroke="#1955a0" stroke-opacity="0.62" stroke-width="1"/>
<path d="M167.5 51.3L170.97 53.82L169.64 57.9L165.36 57.9L164.03 53.82Z" fill="none" stroke="#1955a0" stroke-opacity="0.62" stroke-width="1.15" stroke-linejoin="miter"/>
<path d="M167.5 49.5V59.7" stroke="#1955a0" stroke-opacity="0.62" stroke-width="1"/>
<path d="M247.2 55.5L250.67 58.02L249.34 62.1L245.06 62.1L243.73 58.02Z" fill="none" stroke="#1955a0" stroke-opacity="0.62" stroke-width="1.15" stroke-linejoin="miter"/>
<path d="M247.2 55.5V62.1" stroke="#1955a0" stroke-opacity="0.62" stroke-width="1"/>
<path d="M265.4 24.1L268.87 26.62L267.54 30.7L263.26 30.7L261.93 26.62Z" fill="none" stroke="#1955a0" stroke-opacity="0.62" stroke-width="1.15" stroke-linejoin="miter"/>
<path d="M265.4 24.1V30.7" stroke="#1955a0" stroke-opacity="0.62" stroke-width="1"/>
<path d="M278.4 32.9L281.87 35.42L280.54 39.5L276.26 39.5L274.93 35.42Z" fill="none" stroke="#1955a0" stroke-opacity="0.62" stroke-width="1.15" stroke-linejoin="miter"/>
<path d="M278.4 28.6V43.5" stroke="#1955a0" stroke-opacity="0.62" stroke-width="1"/>
<path d="M288.9 39.9L292.37 42.42L291.04 46.5L286.76 46.5L285.43 42.42Z" fill="none" stroke="#1955a0" stroke-opacity="0.62" stroke-width="1.15" stroke-linejoin="miter"/>
<path d="M288.9 39.9V46.5" stroke="#1955a0" stroke-opacity="0.62" stroke-width="1"/>
<path d="M305.7 35L309.17 37.52L307.84 41.6L303.56 41.6L302.23 37.52Z" fill="none" stroke="#1955a0" stroke-opacity="0.62" stroke-width="1.15" stroke-linejoin="miter"/>
<path d="M305.7 33V44.4" stroke="#1955a0" stroke-opacity="0.62" stroke-width="1"/>
<path d="M301.7 44.6L305.17 47.12L303.84 51.2L299.56 51.2L298.23 47.12Z" fill="none" stroke="#1955a0" stroke-opacity="0.62" stroke-width="1.15" stroke-linejoin="miter"/>
<path d="M301.7 44.6V51.2" stroke="#1955a0" stroke-opacity="0.62" stroke-width="1"/>
<path d="M305.2 50.4L308.67 52.92L307.34 57L303.06 57L301.73 52.92Z" fill="none" stroke="#1955a0" stroke-opacity="0.62" stroke-width="1.15" stroke-linejoin="miter"/>
<path d="M305.2 48.8V58.8" stroke="#1955a0" stroke-opacity="0.62" stroke-width="1"/>
<path d="M323.6 42.3L327.07 44.82L325.74 48.9L321.46 48.9L320.13 44.82Z" fill="none" stroke="#1955a0" stroke-opacity="0.62" stroke-width="1.15" stroke-linejoin="miter"/>
<path d="M323.6 42.3V48.9" stroke="#1955a0" stroke-opacity="0.62" stroke-width="1"/>
<path d="M353.7 35.9L357.17 38.42L355.84 42.5L351.56 42.5L350.23 38.42Z" fill="none" stroke="#1955a0" stroke-opacity="0.62" stroke-width="1.15" stroke-linejoin="miter"/>
<path d="M353.7 35.9V42.5" stroke="#1955a0" stroke-opacity="0.62" stroke-width="1"/>
<path d="M349 45.5L352.47 48.02L351.14 52.1L346.86 52.1L345.53 48.02Z" fill="none" stroke="#1955a0" stroke-opacity="0.62" stroke-width="1.15" stroke-linejoin="miter"/>
<path d="M349 45.5V52.1" stroke="#1955a0" stroke-opacity="0.62" stroke-width="1"/>
<path d="M350.7 51.6L354.17 54.12L352.84 58.2L348.56 58.2L347.23 54.12Z" fill="none" stroke="#1955a0" stroke-opacity="0.62" stroke-width="1.15" stroke-linejoin="miter"/>
<path d="M350.7 51.6V58.2" stroke="#1955a0" stroke-opacity="0.62" stroke-width="1"/>
<path d="M382.4 28L385.87 30.52L384.54 34.6L380.26 34.6L378.93 30.52Z" fill="none" stroke="#1955a0" stroke-opacity="0.62" stroke-width="1.15" stroke-linejoin="miter"/>
<path d="M382.4 26V36.5" stroke="#1955a0" stroke-opacity="0.62" stroke-width="1"/>
<path d="M388.4 42.3L391.87 44.82L390.54 48.9L386.26 48.9L384.93 44.82Z" fill="none" stroke="#1955a0" stroke-opacity="0.62" stroke-width="1.15" stroke-linejoin="miter"/>
<path d="M388.4 40V51.4" stroke="#1955a0" stroke-opacity="0.62" stroke-width="1"/>
<path d="M377.5 50.4L380.97 52.92L379.64 57L375.36 57L374.03 52.92Z" fill="none" stroke="#1955a0" stroke-opacity="0.62" stroke-width="1.15" stroke-linejoin="miter"/>
<path d="M377.5 48V59.3" stroke="#1955a0" stroke-opacity="0.62" stroke-width="1"/>
<path d="M410 39.4L413.47 41.92L412.14 46L407.86 46L406.53 41.92Z" fill="none" stroke="#1955a0" stroke-opacity="0.62" stroke-width="1.15" stroke-linejoin="miter"/>
<path d="M410 39.4V46" stroke="#1955a0" stroke-opacity="0.62" stroke-width="1"/>
<path d="M429.2 28.9L432.67 31.42L431.34 35.5L427.06 35.5L425.73 31.42Z" fill="none" stroke="#1955a0" stroke-opacity="0.62" stroke-width="1.15" stroke-linejoin="miter"/>
<path d="M429.2 28.9V35.5" stroke="#1955a0" stroke-opacity="0.62" stroke-width="1"/>
<path d="M439.2 59.9L442.67 62.42L441.34 66.5L437.06 66.5L435.73 62.42Z" fill="none" stroke="#1955a0" stroke-opacity="0.62" stroke-width="1.15" stroke-linejoin="miter"/>
<path d="M439.2 58V68" stroke="#1955a0" stroke-opacity="0.62" stroke-width="1"/>
<path d="M457.2 62.1L460.67 64.62L459.34 68.7L455.06 68.7L453.73 64.62Z" fill="none" stroke="#1955a0" stroke-opacity="0.62" stroke-width="1.15" stroke-linejoin="miter"/>
<path d="M457.2 60V70.5" stroke="#1955a0" stroke-opacity="0.62" stroke-width="1"/>
<path d="M397.1 68.3L400.57 70.82L399.24 74.9L394.96 74.9L393.63 70.82Z" fill="none" stroke="#1955a0" stroke-opacity="0.62" stroke-width="1.15" stroke-linejoin="miter"/>
<path d="M397.1 66V77" stroke="#1955a0" stroke-opacity="0.62" stroke-width="1"/>
<path d="M502.9 47.6L506.37 50.12L505.04 54.2L500.76 54.2L499.43 50.12Z" fill="none" stroke="#1955a0" stroke-opacity="0.62" stroke-width="1.15" stroke-linejoin="miter"/>
<path d="M502.9 46V56" stroke="#1955a0" stroke-opacity="0.62" stroke-width="1"/>
<path d="M510.6 63.9L514.07 66.42L512.74 70.5L508.46 70.5L507.13 66.42Z" fill="none" stroke="#1955a0" stroke-opacity="0.62" stroke-width="1.15" stroke-linejoin="miter"/>
<path d="M510.6 63.9V70.5" stroke="#1955a0" stroke-opacity="0.62" stroke-width="1"/>
<path d="M545 44.9L548.47 47.42L547.14 51.5L542.86 51.5L541.53 47.42Z" fill="none" stroke="#1955a0" stroke-opacity="0.62" stroke-width="1.15" stroke-linejoin="miter"/>
<path d="M545 42.7V53.2" stroke="#1955a0" stroke-opacity="0.62" stroke-width="1"/>
<path d="M557 48.3L560.47 50.82L559.14 54.9L554.86 54.9L553.53 50.82Z" fill="none" stroke="#1955a0" stroke-opacity="0.62" stroke-width="1.15" stroke-linejoin="miter"/>
<path d="M557 46.5V56.5" stroke="#1955a0" stroke-opacity="0.62" stroke-width="1"/>
<path d="M551 58.1L554.47 60.62L553.14 64.7L548.86 64.7L547.53 60.62Z" fill="none" stroke="#1955a0" stroke-opacity="0.62" stroke-width="1.15" stroke-linejoin="miter"/>
<path d="M551 58.1V64.7" stroke="#1955a0" stroke-opacity="0.62" stroke-width="1"/>
<path d="M556 56L559.47 58.52L558.14 62.6L553.86 62.6L552.53 58.52Z" fill="none" stroke="#1955a0" stroke-opacity="0.62" stroke-width="1.15" stroke-linejoin="miter"/>
<path d="M556 56V62.6" stroke="#1955a0" stroke-opacity="0.62" stroke-width="1"/>
<path d="M559.6 60.4L563.07 62.92L561.74 67L557.46 67L556.13 62.92Z" fill="none" stroke="#1955a0" stroke-opacity="0.62" stroke-width="1.15" stroke-linejoin="miter"/>
<path d="M559.6 60.4V67" stroke="#1955a0" stroke-opacity="0.62" stroke-width="1"/>
<path d="M573.7 46.3L577.17 48.82L575.84 52.9L571.56 52.9L570.23 48.82Z" fill="none" stroke="#1955a0" stroke-opacity="0.62" stroke-width="1.15" stroke-linejoin="miter"/>
<path d="M573.7 43V56" stroke="#1955a0" stroke-opacity="0.62" stroke-width="1"/>
<path d="M578.8 43.4L582.27 45.92L580.94 50L576.66 50L575.33 45.92Z" fill="none" stroke="#1955a0" stroke-opacity="0.62" stroke-width="1.15" stroke-linejoin="miter"/>
<path d="M578.8 43.4V50" stroke="#1955a0" stroke-opacity="0.62" stroke-width="1"/>
<path d="M579.8 49L583.27 51.52L581.94 55.6L577.66 55.6L576.33 51.52Z" fill="none" stroke="#1955a0" stroke-opacity="0.62" stroke-width="1.15" stroke-linejoin="miter"/>
<path d="M579.8 49V55.6" stroke="#1955a0" stroke-opacity="0.62" stroke-width="1"/>
<path d="M593.8 43L597.27 45.52L595.94 49.6L591.66 49.6L590.33 45.52Z" fill="none" stroke="#1955a0" stroke-opacity="0.62" stroke-width="1.15" stroke-linejoin="miter"/>
<path d="M593.8 43V49.6" stroke="#1955a0" stroke-opacity="0.62" stroke-width="1"/>
<path d="M611.6 37.4L615.07 39.92L613.74 44L609.46 44L608.13 39.92Z" fill="none" stroke="#1955a0" stroke-opacity="0.62" stroke-width="1.15" stroke-linejoin="miter"/>
<path d="M611.6 35.5V46" stroke="#1955a0" stroke-opacity="0.62" stroke-width="1"/>
<path d="M621.4 51.6L624.87 54.12L623.54 58.2L619.26 58.2L617.93 54.12Z" fill="none" stroke="#1955a0" stroke-opacity="0.62" stroke-width="1.15" stroke-linejoin="miter"/>
<path d="M621.4 48V61.7" stroke="#1955a0" stroke-opacity="0.62" stroke-width="1"/>
<path d="M77.2 80.4L80.67 82.92L79.34 87L75.06 87L73.73 82.92Z" fill="none" stroke="#1955a0" stroke-opacity="0.62" stroke-width="1.15" stroke-linejoin="miter"/>
<path d="M77.2 80.4V87" stroke="#1955a0" stroke-opacity="0.62" stroke-width="1"/>
<path d="M41.1 54.03 L44.75 53.21 L48.41 52.37 L52.06 51.52 L55.72 50.66 L59.37 49.8 L63.02 48.93 L66.68 48.08 L70.33 47.23 L73.99 46.39 L77.64 45.57 L81.29 44.78 L84.95 44.01 L88.6 43.26 L92.26 42.55 L95.91 41.87 L99.57 41.22 L103.22 40.62 L106.87 40.05 L110.53 39.53 L114.18 39.05 L117.84 38.61 L121.49 38.22 L125.14 37.88 L128.8 37.58 L132.45 37.33 L136.11 37.13 L139.76 36.97 L143.41 36.85 L147.07 36.78 L150.72 36.75 L154.38 36.75 L158.03 36.79 L161.68 36.87 L165.34 36.98 L168.99 37.12 L172.65 37.29 L176.3 37.47 L179.96 37.68 L183.61 37.91 L187.26 38.15 L190.92 38.39 L194.57 38.65 L198.23 38.91 L201.88 39.16 L205.53 39.42 L209.19 39.66 L212.84 39.9 L216.5 40.12 L220.15 40.32 L223.8 40.51 L227.46 40.67 L231.11 40.81 L234.77 40.92 L238.42 41 L242.07 41.05 L245.73 41.07 L249.38 41.06 L253.04 41.01 L256.69 40.92 L260.35 40.8 L264 40.64 L267.65 40.45 L271.31 40.22 L274.96 39.96 L278.62 39.66 L282.27 39.33 L285.92 38.97 L289.58 38.59 L293.23 38.17 L296.89 37.74 L300.54 37.28 L304.19 36.8 L307.85 36.31 L311.5 35.8 L315.16 35.29 L318.81 34.77 L322.46 34.25 L326.12 33.73 L329.77 33.22 L333.43 32.72 L337.08 32.23 L340.74 31.76 L344.39 31.31 L348.04 30.89 L351.7 30.49 L355.35 30.13 L359.01 29.81 L362.66 29.52 L366.31 29.27 L369.97 29.07 L373.62 28.92 L377.28 28.82 L380.93 28.77 L384.58 28.77 L388.24 28.83 L391.89 28.95 L395.55 29.13 L399.2 29.36 L402.85 29.65 L406.51 30.01 L410.16 30.42 L413.82 30.89 L417.47 31.42 L421.13 32 L424.78 32.64 L428.43 33.33 L432.09 34.07 L435.74 34.86 L439.4 35.69 L443.05 36.57 L446.7 37.48 L450.36 38.43 L454.01 39.41 L457.67 40.41 L461.32 41.44 L464.97 42.49 L468.63 43.55 L472.28 44.62 L475.94 45.69 L479.59 46.76 L483.24 47.83 L486.9 48.89 L490.55 49.93 L494.21 50.96 L497.86 51.96 L501.52 52.93 L505.17 53.87 L508.82 54.77 L512.48 55.63 L516.13 56.45 L519.79 57.22 L523.44 57.93 L527.09 58.59 L530.75 59.2 L534.4 59.74 L538.06 60.22 L541.71 60.64 L545.36 60.99 L549.02 61.28 L552.67 61.5 L556.33 61.65 L559.98 61.73 L563.63 61.74 L567.29 61.68 L570.94 61.56 L574.6 61.37 L578.25 61.12 L581.91 60.8 L585.56 60.43 L589.21 60 L592.87 59.51 L596.52 58.97 L600.18 58.38 L603.83 57.75 L607.48 57.07 L611.14 56.36 L614.79 55.61 L618.45 54.83 L622.1 54.03" fill="none" stroke="#1955a0" stroke-opacity="0.85" stroke-width="1.5" stroke-linejoin="round"/>
<path d="M69.6 36.3L74.54 39.89L72.65 45.7L66.55 45.7L64.66 39.89Z" fill="#1955a0" fill-opacity="0.82"/>
<path d="M69.6 34.9V47.2" stroke="#1955a0" stroke-opacity="0.82" stroke-width="1.2"/>
<path d="M71.6 53L76.54 56.59L74.65 62.4L68.55 62.4L66.66 56.59Z" fill="#1955a0" fill-opacity="0.82"/>
<path d="M71.6 54.2V61.2" stroke="#1955a0" stroke-opacity="0.5" stroke-width="1"/>
<path d="M171.5 31L176.44 34.59L174.55 40.4L168.45 40.4L166.56 34.59Z" fill="#1955a0" fill-opacity="0.82"/>
<path d="M171.5 28.6V42.7" stroke="#1955a0" stroke-opacity="0.82" stroke-width="1.2"/>
<path d="M265.4 36.2L270.34 39.79L268.45 45.6L262.35 45.6L260.46 39.79Z" fill="#1955a0" fill-opacity="0.82"/>
<path d="M265.4 35.7V46.2" stroke="#1955a0" stroke-opacity="0.82" stroke-width="1.2"/>
<path d="M274.5 31.8L279.44 35.39L277.55 41.2L271.45 41.2L269.56 35.39Z" fill="#1955a0" fill-opacity="0.82"/>
<path d="M274.5 33V40" stroke="#1955a0" stroke-opacity="0.5" stroke-width="1"/>
<path d="M299 36.6L303.94 40.19L302.05 46L295.95 46L294.06 40.19Z" fill="#1955a0" fill-opacity="0.82"/>
<path d="M299 36V47" stroke="#1955a0" stroke-opacity="0.82" stroke-width="1.2"/>
<path d="M332 11.2L336.94 14.79L335.05 20.6L328.95 20.6L327.06 14.79Z" fill="#1955a0" fill-opacity="0.82"/>
<path d="M332 7.6V24.3" stroke="#1955a0" stroke-opacity="0.82" stroke-width="1.2"/>
<path d="M362.1 36.2L367.04 39.79L365.15 45.6L359.05 45.6L357.16 39.79Z" fill="#1955a0" fill-opacity="0.82"/>
<path d="M362.1 36V45.5" stroke="#1955a0" stroke-opacity="0.82" stroke-width="1.2"/>
<path d="M389.4 18.7L394.34 22.29L392.45 28.1L386.35 28.1L384.46 22.29Z" fill="#1955a0" fill-opacity="0.82"/>
<path d="M389.4 19.9V26.9" stroke="#1955a0" stroke-opacity="0.5" stroke-width="1"/>
<path d="M448.5 26.6L453.44 30.19L451.55 36L445.45 36L443.56 30.19Z" fill="#1955a0" fill-opacity="0.82"/>
<path d="M448.5 27.8V34.8" stroke="#1955a0" stroke-opacity="0.5" stroke-width="1"/>
<path d="M475.6 46.2L480.54 49.79L478.65 55.6L472.55 55.6L470.66 49.79Z" fill="#1955a0" fill-opacity="0.82"/>
<path d="M475.6 45V56" stroke="#1955a0" stroke-opacity="0.82" stroke-width="1.2"/>
<path d="M529.9 62.5L534.84 66.09L532.95 71.9L526.85 71.9L524.96 66.09Z" fill="#1955a0" fill-opacity="0.82"/>
<path d="M529.9 63.7V70.7" stroke="#1955a0" stroke-opacity="0.5" stroke-width="1"/>
<path d="M561.7 54.1L566.64 57.69L564.75 63.5L558.65 63.5L556.76 57.69Z" fill="#1955a0" fill-opacity="0.82"/>
<path d="M561.7 55.3V62.3" stroke="#1955a0" stroke-opacity="0.5" stroke-width="1"/>
<path d="M598 44.4L602.94 47.99L601.05 53.8L594.95 53.8L593.06 47.99Z" fill="#1955a0" fill-opacity="0.82"/>
<path d="M598 45.6V52.6" stroke="#1955a0" stroke-opacity="0.5" stroke-width="1"/>
<path d="M600 45.7L604.94 49.29L603.05 55.1L596.95 55.1L595.06 49.29Z" fill="#1955a0" fill-opacity="0.82"/>
<path d="M600 46.9V53.9" stroke="#1955a0" stroke-opacity="0.5" stroke-width="1"/>
</g>
<path d="M41.1 6.1v10.5M41.1 143v-10.5M157.3 6.1v10.5M157.3 143v-10.5M273.5 6.1v10.5M273.5 143v-10.5M389.7 6.1v10.5M389.7 143v-10.5M505.9 6.1v10.5M505.9 143v-10.5M622.1 6.1v10.5M622.1 143v-10.5M29.5 109.7h10.5M633.5 109.7h-10.5M29.5 69.9h10.5M633.5 69.9h-10.5M29.5 30.1h10.5M633.5 30.1h-10.5" stroke="#000" stroke-width="1.6" fill="none"/>
<path d="M70.15 6.1v2.3M70.15 143v-2.3M99.2 6.1v2.3M99.2 143v-2.3M128.25 6.1v2.3M128.25 143v-2.3M186.35 6.1v2.3M186.35 143v-2.3M215.4 6.1v2.3M215.4 143v-2.3M244.45 6.1v2.3M244.45 143v-2.3M302.55 6.1v2.3M302.55 143v-2.3M331.6 6.1v2.3M331.6 143v-2.3M360.65 6.1v2.3M360.65 143v-2.3M418.75 6.1v2.3M418.75 143v-2.3M447.8 6.1v2.3M447.8 143v-2.3M476.85 6.1v2.3M476.85 143v-2.3M534.95 6.1v2.3M534.95 143v-2.3M564 6.1v2.3M564 143v-2.3M593.05 6.1v2.3M593.05 143v-2.3M29.5 139.55h2.3M633.5 139.55h-2.3M29.5 129.6h2.3M633.5 129.6h-2.3M29.5 119.65h2.3M633.5 119.65h-2.3M29.5 99.75h2.3M633.5 99.75h-2.3M29.5 89.8h2.3M633.5 89.8h-2.3M29.5 79.85h2.3M633.5 79.85h-2.3M29.5 59.95h2.3M633.5 59.95h-2.3M29.5 50h2.3M633.5 50h-2.3M29.5 40.05h2.3M633.5 40.05h-2.3M29.5 20.15h2.3M633.5 20.15h-2.3M29.5 10.2h2.3M633.5 10.2h-2.3" stroke="#000" stroke-width="0.9" stroke-opacity="0.85" fill="none"/>
<rect x="29.5" y="6.1" width="604" height="136.9" fill="none" stroke="#000" stroke-width="1.2"/>
<clipPath id="clipB"><rect x="29.5" y="148.5" width="604" height="137.1"/></clipPath>
<g clip-path="url(#clipB)">
<path d="M126.55 250.35L132.85 250.35L129.7 256.65Z" fill="none" stroke="#962347" stroke-opacity="0.62" stroke-width="1.5" stroke-linejoin="miter"/>
<path d="M129.7 252.2V254.8" stroke="#962347" stroke-opacity="0.62" stroke-width="1"/>
<path d="M180.25 263.15L186.55 263.15L183.4 269.45Z" fill="none" stroke="#962347" stroke-opacity="0.62" stroke-width="1.5" stroke-linejoin="miter"/>
<path d="M183.4 265V267.6" stroke="#962347" stroke-opacity="0.62" stroke-width="1"/>
<path d="M220.55 270.55L226.85 270.55L223.7 276.85Z" fill="none" stroke="#962347" stroke-opacity="0.62" stroke-width="1.5" stroke-linejoin="miter"/>
<path d="M223.7 272.4V275" stroke="#962347" stroke-opacity="0.62" stroke-width="1"/>
<path d="M276.25 215.25L282.55 215.25L279.4 221.55Z" fill="none" stroke="#962347" stroke-opacity="0.62" stroke-width="1.5" stroke-linejoin="miter"/>
<path d="M279.4 217.1V219.7" stroke="#962347" stroke-opacity="0.62" stroke-width="1"/>
<path d="M294.55 213.15L300.85 213.15L297.7 219.45Z" fill="none" stroke="#962347" stroke-opacity="0.62" stroke-width="1.5" stroke-linejoin="miter"/>
<path d="M297.7 215V217.6" stroke="#962347" stroke-opacity="0.62" stroke-width="1"/>
<path d="M281.85 231.95L288.15 231.95L285 238.25Z" fill="none" stroke="#962347" stroke-opacity="0.62" stroke-width="1.5" stroke-linejoin="miter"/>
<path d="M285 233.8V236.4" stroke="#962347" stroke-opacity="0.62" stroke-width="1"/>
<path d="M289.25 270.85L295.55 270.85L292.4 277.15Z" fill="none" stroke="#962347" stroke-opacity="0.62" stroke-width="1.5" stroke-linejoin="miter"/>
<path d="M292.4 272.7V275.3" stroke="#962347" stroke-opacity="0.62" stroke-width="1"/>
<path d="M482.25 213.85L488.55 213.85L485.4 220.15Z" fill="none" stroke="#962347" stroke-opacity="0.62" stroke-width="1.5" stroke-linejoin="miter"/>
<path d="M485.4 215.7V218.3" stroke="#962347" stroke-opacity="0.62" stroke-width="1"/>
<path d="M598.45 222.05L604.75 222.05L601.6 228.35Z" fill="none" stroke="#962347" stroke-opacity="0.62" stroke-width="1.5" stroke-linejoin="miter"/>
<path d="M601.6 223.9V226.5" stroke="#962347" stroke-opacity="0.62" stroke-width="1"/>
<path d="M41.1 248.78 L44.75 248.31 L48.41 247.81 L52.06 247.26 L55.72 246.68 L59.37 246.06 L63.02 245.41 L66.68 244.72 L70.33 243.99 L73.99 243.23 L77.64 242.44 L81.29 241.63 L84.95 240.79 L88.6 239.92 L92.26 239.03 L95.91 238.13 L99.57 237.22 L103.22 236.29 L106.87 235.36 L110.53 234.43 L114.18 233.5 L117.84 232.58 L121.49 231.67 L125.14 230.77 L128.8 229.9 L132.45 229.04 L136.11 228.22 L139.76 227.43 L143.41 226.68 L147.07 225.97 L150.72 225.31 L154.38 224.7 L158.03 224.14 L161.68 223.63 L165.34 223.19 L168.99 222.81 L172.65 222.5 L176.3 222.26 L179.96 222.09 L183.61 222 L187.26 221.98 L190.92 222.04 L194.57 222.17 L198.23 222.39 L201.88 222.68 L205.53 223.05 L209.19 223.5 L212.84 224.03 L216.5 224.64 L220.15 225.31 L223.8 226.07 L227.46 226.89 L231.11 227.78 L234.77 228.74 L238.42 229.76 L242.07 230.84 L245.73 231.97 L249.38 233.15 L253.04 234.38 L256.69 235.65 L260.35 236.96 L264 238.3 L267.65 239.67 L271.31 241.06 L274.96 242.46 L278.62 243.88 L282.27 245.31 L285.92 246.73 L289.58 248.15 L293.23 249.56 L296.89 250.96 L300.54 252.34 L304.19 253.69 L307.85 255.01 L311.5 256.3 L315.16 257.54 L318.81 258.75 L322.46 259.91 L326.12 261.01 L329.77 262.07 L333.43 263.06 L337.08 264 L340.74 264.87 L344.39 265.67 L348.04 266.41 L351.7 267.09 L355.35 267.69 L359.01 268.22 L362.66 268.68 L366.31 269.07 L369.97 269.4 L373.62 269.65 L377.28 269.83 L380.93 269.94 L384.58 269.99 L388.24 269.98 L391.89 269.9 L395.55 269.76 L399.2 269.57 L402.85 269.33 L406.51 269.03 L410.16 268.68 L413.82 268.3 L417.47 267.87 L421.13 267.4 L424.78 266.91 L428.43 266.38 L432.09 265.83 L435.74 265.26 L439.4 264.67 L443.05 264.07 L446.7 263.46 L450.36 262.84 L454.01 262.23 L457.67 261.61 L461.32 261 L464.97 260.4 L468.63 259.81 L472.28 259.23 L475.94 258.67 L479.59 258.13 L483.24 257.62 L486.9 257.12 L490.55 256.65 L494.21 256.2 L497.86 255.78 L501.52 255.39 L505.17 255.03 L508.82 254.69 L512.48 254.38 L516.13 254.1 L519.79 253.84 L523.44 253.61 L527.09 253.41 L530.75 253.22 L534.4 253.06 L538.06 252.92 L541.71 252.79 L545.36 252.68 L549.02 252.58 L552.67 252.49 L556.33 252.4 L559.98 252.32 L563.63 252.24 L567.29 252.16 L570.94 252.07 L574.6 251.98 L578.25 251.87 L581.91 251.75 L585.56 251.61 L589.21 251.46 L592.87 251.28 L596.52 251.07 L600.18 250.84 L603.83 250.58 L607.48 250.29 L611.14 249.97 L614.79 249.61 L618.45 249.21 L622.1 248.78" fill="none" stroke="#962347" stroke-opacity="0.85" stroke-width="1.5" stroke-linejoin="round"/>
<path d="M73 230L83.2 230L78.1 240.2Z" fill="#962347" fill-opacity="0.82"/>
<path d="M78.1 233.3V236.9" stroke="#962347" stroke-opacity="0.5" stroke-width="1"/>
<path d="M69.8 241.7L80 241.7L74.9 251.9Z" fill="#962347" fill-opacity="0.82"/>
<path d="M74.9 245V248.6" stroke="#962347" stroke-opacity="0.5" stroke-width="1"/>
<path d="M84 237.8L94.2 237.8L89.1 248Z" fill="#962347" fill-opacity="0.82"/>
<path d="M89.1 241.1V244.7" stroke="#962347" stroke-opacity="0.5" stroke-width="1"/>
<path d="M116.4 228.7L126.6 228.7L121.5 238.9Z" fill="#962347" fill-opacity="0.82"/>
<path d="M121.5 232V235.6" stroke="#962347" stroke-opacity="0.5" stroke-width="1"/>
<path d="M130.2 223.5L140.4 223.5L135.3 233.7Z" fill="#962347" fill-opacity="0.82"/>
<path d="M135.3 226.8V230.4" stroke="#962347" stroke-opacity="0.5" stroke-width="1"/>
<path d="M150.3 221.2L160.5 221.2L155.4 231.4Z" fill="#962347" fill-opacity="0.82"/>
<path d="M155.4 224.5V228.1" stroke="#962347" stroke-opacity="0.5" stroke-width="1"/>
<path d="M176.6 219.4L186.8 219.4L181.7 229.6Z" fill="#962347" fill-opacity="0.82"/>
<path d="M181.7 222.7V226.3" stroke="#962347" stroke-opacity="0.5" stroke-width="1"/>
<path d="M230.9 222.4L241.1 222.4L236 232.6Z" fill="#962347" fill-opacity="0.82"/>
<path d="M236 225.7V229.3" stroke="#962347" stroke-opacity="0.5" stroke-width="1"/>
<path d="M249.5 232.8L259.7 232.8L254.6 243Z" fill="#962347" fill-opacity="0.82"/>
<path d="M254.6 236.1V239.7" stroke="#962347" stroke-opacity="0.5" stroke-width="1"/>
<path d="M279.9 237L290.1 237L285 247.2Z" fill="#962347" fill-opacity="0.82"/>
<path d="M285 240.3V243.9" stroke="#962347" stroke-opacity="0.5" stroke-width="1"/>
<path d="M275 242L285.2 242L280.1 252.2Z" fill="#962347" fill-opacity="0.82"/>
<path d="M280.1 245.3V248.9" stroke="#962347" stroke-opacity="0.5" stroke-width="1"/>
<path d="M293.9 241.8L304.1 241.8L299 252Z" fill="#962347" fill-opacity="0.82"/>
<path d="M299 245.1V248.7" stroke="#962347" stroke-opacity="0.5" stroke-width="1"/>
<path d="M288.7 248.9L298.9 248.9L293.8 259.1Z" fill="#962347" fill-opacity="0.82"/>
<path d="M293.8 252.2V255.8" stroke="#962347" stroke-opacity="0.5" stroke-width="1"/>
<path d="M311.8 252.4L322 252.4L316.9 262.6Z" fill="#962347" fill-opacity="0.82"/>
<path d="M316.9 255.7V259.3" stroke="#962347" stroke-opacity="0.5" stroke-width="1"/>
<path d="M314.6 253.7L324.8 253.7L319.7 263.9Z" fill="#962347" fill-opacity="0.82"/>
<path d="M319.7 257V260.6" stroke="#962347" stroke-opacity="0.5" stroke-width="1"/>
<path d="M338.6 263L348.8 263L343.7 273.2Z" fill="#962347" fill-opacity="0.82"/>
<path d="M343.7 266.3V269.9" stroke="#962347" stroke-opacity="0.5" stroke-width="1"/>
<path d="M373.6 267.2L383.8 267.2L378.7 277.4Z" fill="#962347" fill-opacity="0.82"/>
<path d="M378.7 270.5V274.1" stroke="#962347" stroke-opacity="0.5" stroke-width="1"/>
<path d="M392.6 261.9L402.8 261.9L397.7 272.1Z" fill="#962347" fill-opacity="0.82"/>
<path d="M397.7 265.2V268.8" stroke="#962347" stroke-opacity="0.5" stroke-width="1"/>
<path d="M444.2 258L454.4 258L449.3 268.2Z" fill="#962347" fill-opacity="0.82"/>
<path d="M449.3 261.3V264.9" stroke="#962347" stroke-opacity="0.5" stroke-width="1"/>
<path d="M470.5 257L480.7 257L475.6 267.2Z" fill="#962347" fill-opacity="0.82"/>
<path d="M475.6 260.3V263.9" stroke="#962347" stroke-opacity="0.5" stroke-width="1"/>
<path d="M511.3 247.5L521.5 247.5L516.4 257.7Z" fill="#962347" fill-opacity="0.82"/>
<path d="M516.4 250.8V254.4" stroke="#962347" stroke-opacity="0.5" stroke-width="1"/>
<path d="M519.2 247.9L529.4 247.9L524.3 258.1Z" fill="#962347" fill-opacity="0.82"/>
<path d="M524.3 251.2V254.8" stroke="#962347" stroke-opacity="0.5" stroke-width="1"/>
<path d="M553.5 246.4L563.7 246.4L558.6 256.6Z" fill="#962347" fill-opacity="0.82"/>
<path d="M558.6 249.7V253.3" stroke="#962347" stroke-opacity="0.5" stroke-width="1"/>
<path d="M572.6 253.9L582.8 253.9L577.7 264.1Z" fill="#962347" fill-opacity="0.82"/>
<path d="M577.7 257.2V260.8" stroke="#962347" stroke-opacity="0.5" stroke-width="1"/>
<path d="M603.1 244.1L613.3 244.1L608.2 254.3Z" fill="#962347" fill-opacity="0.82"/>
<path d="M608.2 247.4V251" stroke="#962347" stroke-opacity="0.5" stroke-width="1"/>
<path d="M70.9 225.4h6.6v6.6h-6.6Z" fill="none" stroke="#d4a520" stroke-opacity="0.62" stroke-width="1.15" stroke-linejoin="miter"/>
<path d="M74.2 227.4V230" stroke="#d4a520" stroke-opacity="0.62" stroke-width="1"/>
<path d="M126.4 234.1h6.6v6.6h-6.6Z" fill="none" stroke="#d4a520" stroke-opacity="0.62" stroke-width="1.15" stroke-linejoin="miter"/>
<path d="M129.7 236.1V238.7" stroke="#d4a520" stroke-opacity="0.62" stroke-width="1"/>
<path d="M220.4 244.2h6.6v6.6h-6.6Z" fill="none" stroke="#d4a520" stroke-opacity="0.62" stroke-width="1.15" stroke-linejoin="miter"/>
<path d="M223.7 246.2V248.8" stroke="#d4a520" stroke-opacity="0.62" stroke-width="1"/>
<path d="M180.1 267.9h6.6v6.6h-6.6Z" fill="none" stroke="#d4a520" stroke-opacity="0.62" stroke-width="1.15" stroke-linejoin="miter"/>
<path d="M183.4 269.9V272.5" stroke="#d4a520" stroke-opacity="0.62" stroke-width="1"/>
<path d="M294.4 221h6.6v6.6h-6.6Z" fill="none" stroke="#d4a520" stroke-opacity="0.62" stroke-width="1.15" stroke-linejoin="miter"/>
<path d="M297.7 223V225.6" stroke="#d4a520" stroke-opacity="0.62" stroke-width="1"/>
<path d="M276.8 233.3h6.6v6.6h-6.6Z" fill="none" stroke="#d4a520" stroke-opacity="0.62" stroke-width="1.15" stroke-linejoin="miter"/>
<path d="M280.1 235.3V237.9" stroke="#d4a520" stroke-opacity="0.62" stroke-width="1"/>
<path d="M289.1 252.6h6.6v6.6h-6.6Z" fill="none" stroke="#d4a520" stroke-opacity="0.62" stroke-width="1.15" stroke-linejoin="miter"/>
<path d="M292.4 254.6V257.2" stroke="#d4a520" stroke-opacity="0.62" stroke-width="1"/>
<path d="M482.1 218.4h6.6v6.6h-6.6Z" fill="none" stroke="#d4a520" stroke-opacity="0.62" stroke-width="1.15" stroke-linejoin="miter"/>
<path d="M485.4 220.4V223" stroke="#d4a520" stroke-opacity="0.62" stroke-width="1"/>
<path d="M598.1 231.1h6.6v6.6h-6.6Z" fill="none" stroke="#d4a520" stroke-opacity="0.62" stroke-width="1.15" stroke-linejoin="miter"/>
<path d="M601.4 233.1V235.7" stroke="#d4a520" stroke-opacity="0.62" stroke-width="1"/>
<path d="M41.1 229.75 L44.75 229.62 L48.41 229.47 L52.06 229.32 L55.72 229.16 L59.37 228.99 L63.02 228.81 L66.68 228.6 L70.33 228.39 L73.99 228.15 L77.64 227.9 L81.29 227.62 L84.95 227.33 L88.6 227.01 L92.26 226.68 L95.91 226.33 L99.57 225.96 L103.22 225.57 L106.87 225.16 L110.53 224.73 L114.18 224.29 L117.84 223.84 L121.49 223.37 L125.14 222.9 L128.8 222.42 L132.45 221.93 L136.11 221.44 L139.76 220.94 L143.41 220.46 L147.07 219.97 L150.72 219.5 L154.38 219.03 L158.03 218.59 L161.68 218.16 L165.34 217.75 L168.99 217.36 L172.65 217 L176.3 216.67 L179.96 216.38 L183.61 216.12 L187.26 215.9 L190.92 215.72 L194.57 215.59 L198.23 215.5 L201.88 215.47 L205.53 215.48 L209.19 215.55 L212.84 215.67 L216.5 215.84 L220.15 216.08 L223.8 216.37 L227.46 216.72 L231.11 217.13 L234.77 217.6 L238.42 218.12 L242.07 218.71 L245.73 219.35 L249.38 220.05 L253.04 220.8 L256.69 221.6 L260.35 222.46 L264 223.36 L267.65 224.31 L271.31 225.3 L274.96 226.33 L278.62 227.4 L282.27 228.5 L285.92 229.64 L289.58 230.79 L293.23 231.97 L296.89 233.17 L300.54 234.38 L304.19 235.6 L307.85 236.83 L311.5 238.06 L315.16 239.28 L318.81 240.5 L322.46 241.7 L326.12 242.88 L329.77 244.05 L333.43 245.18 L337.08 246.29 L340.74 247.37 L344.39 248.4 L348.04 249.4 L351.7 250.35 L355.35 251.25 L359.01 252.1 L362.66 252.9 L366.31 253.64 L369.97 254.32 L373.62 254.95 L377.28 255.5 L380.93 256 L384.58 256.43 L388.24 256.79 L391.89 257.09 L395.55 257.31 L399.2 257.48 L402.85 257.57 L406.51 257.6 L410.16 257.56 L413.82 257.46 L417.47 257.3 L421.13 257.08 L424.78 256.8 L428.43 256.46 L432.09 256.07 L435.74 255.63 L439.4 255.13 L443.05 254.6 L446.7 254.02 L450.36 253.4 L454.01 252.75 L457.67 252.06 L461.32 251.35 L464.97 250.61 L468.63 249.86 L472.28 249.08 L475.94 248.29 L479.59 247.49 L483.24 246.69 L486.9 245.88 L490.55 245.07 L494.21 244.27 L497.86 243.47 L501.52 242.69 L505.17 241.91 L508.82 241.15 L512.48 240.41 L516.13 239.7 L519.79 239 L523.44 238.33 L527.09 237.68 L530.75 237.06 L534.4 236.47 L538.06 235.91 L541.71 235.37 L545.36 234.87 L549.02 234.4 L552.67 233.96 L556.33 233.55 L559.98 233.17 L563.63 232.81 L567.29 232.49 L570.94 232.19 L574.6 231.91 L578.25 231.66 L581.91 231.43 L585.56 231.22 L589.21 231.03 L592.87 230.85 L596.52 230.69 L600.18 230.54 L603.83 230.4 L607.48 230.27 L611.14 230.14 L614.79 230.01 L618.45 229.88 L622.1 229.75" fill="none" stroke="#d4a520" stroke-opacity="0.85" stroke-width="1.5" stroke-linejoin="round"/>
<path d="M73.15 219.75h9.9v9.9h-9.9Z" fill="#d4a520" fill-opacity="0.82"/>
<path d="M78.1 222.9V226.5" stroke="#d4a520" stroke-opacity="0.5" stroke-width="1"/>
<path d="M69.95 231.25h9.9v9.9h-9.9Z" fill="#d4a520" fill-opacity="0.82"/>
<path d="M74.9 234.4V238" stroke="#d4a520" stroke-opacity="0.5" stroke-width="1"/>
<path d="M84.15 220.25h9.9v9.9h-9.9Z" fill="#d4a520" fill-opacity="0.82"/>
<path d="M89.1 223.4V227" stroke="#d4a520" stroke-opacity="0.5" stroke-width="1"/>
<path d="M116.55 218.45h9.9v9.9h-9.9Z" fill="#d4a520" fill-opacity="0.82"/>
<path d="M121.5 221.6V225.2" stroke="#d4a520" stroke-opacity="0.5" stroke-width="1"/>
<path d="M130.35 210.95h9.9v9.9h-9.9Z" fill="#d4a520" fill-opacity="0.82"/>
<path d="M135.3 214.1V217.7" stroke="#d4a520" stroke-opacity="0.5" stroke-width="1"/>
<path d="M150.45 210.25h9.9v9.9h-9.9Z" fill="#d4a520" fill-opacity="0.82"/>
<path d="M155.4 213.4V217" stroke="#d4a520" stroke-opacity="0.5" stroke-width="1"/>
<path d="M176.75 210.95h9.9v9.9h-9.9Z" fill="#d4a520" fill-opacity="0.82"/>
<path d="M181.7 214.1V217.7" stroke="#d4a520" stroke-opacity="0.5" stroke-width="1"/>
<path d="M231.05 210.95h9.9v9.9h-9.9Z" fill="#d4a520" fill-opacity="0.82"/>
<path d="M236 214.1V217.7" stroke="#d4a520" stroke-opacity="0.5" stroke-width="1"/>
<path d="M249.65 223.75h9.9v9.9h-9.9Z" fill="#d4a520" fill-opacity="0.82"/>
<path d="M254.6 226.9V230.5" stroke="#d4a520" stroke-opacity="0.5" stroke-width="1"/>
<path d="M275.15 220.75h9.9v9.9h-9.9Z" fill="#d4a520" fill-opacity="0.82"/>
<path d="M280.1 223.9V227.5" stroke="#d4a520" stroke-opacity="0.5" stroke-width="1"/>
<path d="M279.75 219.35h9.9v9.9h-9.9Z" fill="#d4a520" fill-opacity="0.82"/>
<path d="M284.7 222.5V226.1" stroke="#d4a520" stroke-opacity="0.5" stroke-width="1"/>
<path d="M288.85 228.45h9.9v9.9h-9.9Z" fill="#d4a520" fill-opacity="0.82"/>
<path d="M293.8 231.6V235.2" stroke="#d4a520" stroke-opacity="0.5" stroke-width="1"/>
<path d="M294.45 232.45h9.9v9.9h-9.9Z" fill="#d4a520" fill-opacity="0.82"/>
<path d="M299.4 235.6V239.2" stroke="#d4a520" stroke-opacity="0.5" stroke-width="1"/>
<path d="M311.95 234.75h9.9v9.9h-9.9Z" fill="#d4a520" fill-opacity="0.82"/>
<path d="M316.9 237.9V241.5" stroke="#d4a520" stroke-opacity="0.5" stroke-width="1"/>
<path d="M314.75 242.55h9.9v9.9h-9.9Z" fill="#d4a520" fill-opacity="0.82"/>
<path d="M319.7 245.7V249.3" stroke="#d4a520" stroke-opacity="0.5" stroke-width="1"/>
<path d="M338.75 243.55h9.9v9.9h-9.9Z" fill="#d4a520" fill-opacity="0.82"/>
<path d="M343.7 246.7V250.3" stroke="#d4a520" stroke-opacity="0.5" stroke-width="1"/>
<path d="M373.75 249.75h9.9v9.9h-9.9Z" fill="#d4a520" fill-opacity="0.82"/>
<path d="M378.7 252.9V256.5" stroke="#d4a520" stroke-opacity="0.5" stroke-width="1"/>
<path d="M392.75 241.75h9.9v9.9h-9.9Z" fill="#d4a520" fill-opacity="0.82"/>
<path d="M397.7 244.9V248.5" stroke="#d4a520" stroke-opacity="0.5" stroke-width="1"/>
<path d="M444.35 264.95h9.9v9.9h-9.9Z" fill="#d4a520" fill-opacity="0.82"/>
<path d="M449.3 268.1V271.7" stroke="#d4a520" stroke-opacity="0.5" stroke-width="1"/>
<path d="M470.35 238.95h9.9v9.9h-9.9Z" fill="#d4a520" fill-opacity="0.82"/>
<path d="M475.3 242.1V245.7" stroke="#d4a520" stroke-opacity="0.5" stroke-width="1"/>
<path d="M510.95 233.75h9.9v9.9h-9.9Z" fill="#d4a520" fill-opacity="0.82"/>
<path d="M515.9 236.9V240.5" stroke="#d4a520" stroke-opacity="0.5" stroke-width="1"/>
<path d="M519.35 231.65h9.9v9.9h-9.9Z" fill="#d4a520" fill-opacity="0.82"/>
<path d="M524.3 234.8V238.4" stroke="#d4a520" stroke-opacity="0.5" stroke-width="1"/>
<path d="M553.65 237.95h9.9v9.9h-9.9Z" fill="#d4a520" fill-opacity="0.82"/>
<path d="M558.6 241.1V244.7" stroke="#d4a520" stroke-opacity="0.5" stroke-width="1"/>
<path d="M572.75 214.15h9.9v9.9h-9.9Z" fill="#d4a520" fill-opacity="0.82"/>
<path d="M577.7 217.3V220.9" stroke="#d4a520" stroke-opacity="0.5" stroke-width="1"/>
<path d="M603.05 229.95h9.9v9.9h-9.9Z" fill="#d4a520" fill-opacity="0.82"/>
<path d="M608 233.1V236.7" stroke="#d4a520" stroke-opacity="0.5" stroke-width="1"/>
<path d="M74.2 215.4L77.67 217.92L76.34 222L72.06 222L70.73 217.92Z" fill="none" stroke="#1955a0" stroke-opacity="0.62" stroke-width="1.15" stroke-linejoin="miter"/>
<path d="M74.2 217.4V220" stroke="#1955a0" stroke-opacity="0.62" stroke-width="1"/>
<path d="M129.7 226.3L133.17 228.82L131.84 232.9L127.56 232.9L126.23 228.82Z" fill="none" stroke="#1955a0" stroke-opacity="0.62" stroke-width="1.15" stroke-linejoin="miter"/>
<path d="M129.7 228.3V230.9" stroke="#1955a0" stroke-opacity="0.62" stroke-width="1"/>
<path d="M223.7 219.6L227.17 222.12L225.84 226.2L221.56 226.2L220.23 222.12Z" fill="none" stroke="#1955a0" stroke-opacity="0.62" stroke-width="1.15" stroke-linejoin="miter"/>
<path d="M223.7 221.6V224.2" stroke="#1955a0" stroke-opacity="0.62" stroke-width="1"/>
<path d="M183.4 278L186.87 280.52L185.54 284.6L181.26 284.6L179.93 280.52Z" fill="none" stroke="#1955a0" stroke-opacity="0.62" stroke-width="1.15" stroke-linejoin="miter"/>
<path d="M183.4 280V282.6" stroke="#1955a0" stroke-opacity="0.62" stroke-width="1"/>
<path d="M285 214L288.47 216.52L287.14 220.6L282.86 220.6L281.53 216.52Z" fill="none" stroke="#1955a0" stroke-opacity="0.62" stroke-width="1.15" stroke-linejoin="miter"/>
<path d="M285 216V218.6" stroke="#1955a0" stroke-opacity="0.62" stroke-width="1"/>
<path d="M292.4 232.4L295.87 234.92L294.54 239L290.26 239L288.93 234.92Z" fill="none" stroke="#1955a0" stroke-opacity="0.62" stroke-width="1.15" stroke-linejoin="miter"/>
<path d="M292.4 234.4V237" stroke="#1955a0" stroke-opacity="0.62" stroke-width="1"/>
<path d="M279.8 234.1L283.27 236.62L281.94 240.7L277.66 240.7L276.33 236.62Z" fill="none" stroke="#1955a0" stroke-opacity="0.62" stroke-width="1.15" stroke-linejoin="miter"/>
<path d="M279.8 236.1V238.7" stroke="#1955a0" stroke-opacity="0.62" stroke-width="1"/>
<path d="M485.4 206.1L488.87 208.62L487.54 212.7L483.26 212.7L481.93 208.62Z" fill="none" stroke="#1955a0" stroke-opacity="0.62" stroke-width="1.15" stroke-linejoin="miter"/>
<path d="M485.4 208.1V210.7" stroke="#1955a0" stroke-opacity="0.62" stroke-width="1"/>
<path d="M601.6 240.9L605.07 243.42L603.74 247.5L599.46 247.5L598.13 243.42Z" fill="none" stroke="#1955a0" stroke-opacity="0.62" stroke-width="1.15" stroke-linejoin="miter"/>
<path d="M601.6 242.9V245.5" stroke="#1955a0" stroke-opacity="0.62" stroke-width="1"/>
<path d="M41.1 208.34 L44.75 208.32 L48.41 208.29 L52.06 208.26 L55.72 208.23 L59.37 208.18 L63.02 208.13 L66.68 208.06 L70.33 207.97 L73.99 207.87 L77.64 207.75 L81.29 207.61 L84.95 207.45 L88.6 207.26 L92.26 207.05 L95.91 206.82 L99.57 206.56 L103.22 206.28 L106.87 205.97 L110.53 205.64 L114.18 205.29 L117.84 204.91 L121.49 204.51 L125.14 204.09 L128.8 203.65 L132.45 203.19 L136.11 202.71 L139.76 202.22 L143.41 201.72 L147.07 201.21 L150.72 200.7 L154.38 200.17 L158.03 199.65 L161.68 199.13 L165.34 198.62 L168.99 198.11 L172.65 197.62 L176.3 197.14 L179.96 196.67 L183.61 196.23 L187.26 195.82 L190.92 195.43 L194.57 195.07 L198.23 194.75 L201.88 194.46 L205.53 194.21 L209.19 194.01 L212.84 193.85 L216.5 193.73 L220.15 193.67 L223.8 193.65 L227.46 193.69 L231.11 193.79 L234.77 193.93 L238.42 194.14 L242.07 194.4 L245.73 194.72 L249.38 195.09 L253.04 195.53 L256.69 196.01 L260.35 196.56 L264 197.16 L267.65 197.81 L271.31 198.51 L274.96 199.27 L278.62 200.07 L282.27 200.91 L285.92 201.8 L289.58 202.72 L293.23 203.69 L296.89 204.68 L300.54 205.71 L304.19 206.76 L307.85 207.83 L311.5 208.92 L315.16 210.02 L318.81 211.13 L322.46 212.25 L326.12 213.37 L329.77 214.48 L333.43 215.59 L337.08 216.68 L340.74 217.76 L344.39 218.82 L348.04 219.86 L351.7 220.86 L355.35 221.84 L359.01 222.78 L362.66 223.67 L366.31 224.53 L369.97 225.34 L373.62 226.1 L377.28 226.82 L380.93 227.47 L384.58 228.08 L388.24 228.62 L391.89 229.11 L395.55 229.53 L399.2 229.9 L402.85 230.2 L406.51 230.44 L410.16 230.62 L413.82 230.73 L417.47 230.79 L421.13 230.78 L424.78 230.72 L428.43 230.59 L432.09 230.41 L435.74 230.17 L439.4 229.89 L443.05 229.55 L446.7 229.16 L450.36 228.73 L454.01 228.25 L457.67 227.74 L461.32 227.19 L464.97 226.6 L468.63 225.99 L472.28 225.35 L475.94 224.69 L479.59 224.02 L483.24 223.32 L486.9 222.62 L490.55 221.9 L494.21 221.19 L497.86 220.47 L501.52 219.75 L505.17 219.04 L508.82 218.34 L512.48 217.65 L516.13 216.97 L519.79 216.31 L523.44 215.67 L527.09 215.05 L530.75 214.46 L534.4 213.89 L538.06 213.35 L541.71 212.83 L545.36 212.35 L549.02 211.9 L552.67 211.47 L556.33 211.08 L559.98 210.72 L563.63 210.39 L567.29 210.09 L570.94 209.82 L574.6 209.57 L578.25 209.36 L581.91 209.17 L585.56 209.01 L589.21 208.87 L592.87 208.76 L596.52 208.66 L600.18 208.58 L603.83 208.51 L607.48 208.46 L611.14 208.42 L614.79 208.39 L618.45 208.36 L622.1 208.34" fill="none" stroke="#1955a0" stroke-opacity="0.85" stroke-width="1.5" stroke-linejoin="round"/>
<path d="M74.9 200L79.84 203.59L77.95 209.4L71.85 209.4L69.96 203.59Z" fill="#1955a0" fill-opacity="0.82"/>
<path d="M74.9 202.9V206.5" stroke="#1955a0" stroke-opacity="0.5" stroke-width="1"/>
<path d="M78.1 208.7L83.04 212.29L81.15 218.1L75.05 218.1L73.16 212.29Z" fill="#1955a0" fill-opacity="0.82"/>
<path d="M78.1 211.6V215.2" stroke="#1955a0" stroke-opacity="0.5" stroke-width="1"/>
<path d="M89.1 204.7L94.04 208.29L92.15 214.1L86.05 214.1L84.16 208.29Z" fill="#1955a0" fill-opacity="0.82"/>
<path d="M89.1 207.6V211.2" stroke="#1955a0" stroke-opacity="0.5" stroke-width="1"/>
<path d="M121.5 203.5L126.44 207.09L124.55 212.9L118.45 212.9L116.56 207.09Z" fill="#1955a0" fill-opacity="0.82"/>
<path d="M121.5 206.4V210" stroke="#1955a0" stroke-opacity="0.5" stroke-width="1"/>
<path d="M135.3 195.4L140.24 198.99L138.35 204.8L132.25 204.8L130.36 198.99Z" fill="#1955a0" fill-opacity="0.82"/>
<path d="M135.3 198.3V201.9" stroke="#1955a0" stroke-opacity="0.5" stroke-width="1"/>
<path d="M155.4 192.5L160.34 196.09L158.45 201.9L152.35 201.9L150.46 196.09Z" fill="#1955a0" fill-opacity="0.82"/>
<path d="M155.4 195.4V199" stroke="#1955a0" stroke-opacity="0.5" stroke-width="1"/>
<path d="M181.7 191.2L186.64 194.79L184.75 200.6L178.65 200.6L176.76 194.79Z" fill="#1955a0" fill-opacity="0.82"/>
<path d="M181.7 194.1V197.7" stroke="#1955a0" stroke-opacity="0.5" stroke-width="1"/>
<path d="M236 182.5L240.94 186.09L239.05 191.9L232.95 191.9L231.06 186.09Z" fill="#1955a0" fill-opacity="0.82"/>
<path d="M236 185.4V189" stroke="#1955a0" stroke-opacity="0.5" stroke-width="1"/>
<path d="M254.6 196.5L259.54 200.09L257.65 205.9L251.55 205.9L249.66 200.09Z" fill="#1955a0" fill-opacity="0.82"/>
<path d="M254.6 199.4V203" stroke="#1955a0" stroke-opacity="0.5" stroke-width="1"/>
<path d="M284.7 170.9L289.64 174.49L287.75 180.3L281.65 180.3L279.76 174.49Z" fill="#1955a0" fill-opacity="0.82"/>
<path d="M284.7 173.8V177.4" stroke="#1955a0" stroke-opacity="0.5" stroke-width="1"/>
<path d="M280.1 193.7L285.04 197.29L283.15 203.1L277.05 203.1L275.16 197.29Z" fill="#1955a0" fill-opacity="0.82"/>
<path d="M280.1 196.6V200.2" stroke="#1955a0" stroke-opacity="0.5" stroke-width="1"/>
<path d="M299.4 204.2L304.34 207.79L302.45 213.6L296.35 213.6L294.46 207.79Z" fill="#1955a0" fill-opacity="0.82"/>
<path d="M299.4 207.1V210.7" stroke="#1955a0" stroke-opacity="0.5" stroke-width="1"/>
<path d="M293.8 207.7L298.74 211.29L296.85 217.1L290.75 217.1L288.86 211.29Z" fill="#1955a0" fill-opacity="0.82"/>
<path d="M293.8 210.6V214.2" stroke="#1955a0" stroke-opacity="0.5" stroke-width="1"/>
<path d="M297.3 209.1L302.24 212.69L300.35 218.5L294.25 218.5L292.36 212.69Z" fill="#1955a0" fill-opacity="0.82"/>
<path d="M297.3 212V215.6" stroke="#1955a0" stroke-opacity="0.5" stroke-width="1"/>
<path d="M316.9 207L321.84 210.59L319.95 216.4L313.85 216.4L311.96 210.59Z" fill="#1955a0" fill-opacity="0.82"/>
<path d="M316.9 209.9V213.5" stroke="#1955a0" stroke-opacity="0.5" stroke-width="1"/>
<path d="M319.7 216.1L324.64 219.69L322.75 225.5L316.65 225.5L314.76 219.69Z" fill="#1955a0" fill-opacity="0.82"/>
<path d="M319.7 219V222.6" stroke="#1955a0" stroke-opacity="0.5" stroke-width="1"/>
<path d="M343.7 222.2L348.64 225.79L346.75 231.6L340.65 231.6L338.76 225.79Z" fill="#1955a0" fill-opacity="0.82"/>
<path d="M343.7 225.1V228.7" stroke="#1955a0" stroke-opacity="0.5" stroke-width="1"/>
<path d="M397.7 196.5L402.64 200.09L400.75 205.9L394.65 205.9L392.76 200.09Z" fill="#1955a0" fill-opacity="0.82"/>
<path d="M397.7 199.4V203" stroke="#1955a0" stroke-opacity="0.5" stroke-width="1"/>
<path d="M378.7 221L383.64 224.59L381.75 230.4L375.65 230.4L373.76 224.59Z" fill="#1955a0" fill-opacity="0.82"/>
<path d="M378.7 223.9V227.5" stroke="#1955a0" stroke-opacity="0.5" stroke-width="1"/>
<path d="M475.3 217.5L480.24 221.09L478.35 226.9L472.25 226.9L470.36 221.09Z" fill="#1955a0" fill-opacity="0.82"/>
<path d="M475.3 220.4V224" stroke="#1955a0" stroke-opacity="0.5" stroke-width="1"/>
<path d="M449.3 242.7L454.24 246.29L452.35 252.1L446.25 252.1L444.36 246.29Z" fill="#1955a0" fill-opacity="0.82"/>
<path d="M449.3 245.6V249.2" stroke="#1955a0" stroke-opacity="0.5" stroke-width="1"/>
<path d="M516.4 211.7L521.34 215.29L519.45 221.1L513.35 221.1L511.46 215.29Z" fill="#1955a0" fill-opacity="0.82"/>
<path d="M516.4 214.6V218.2" stroke="#1955a0" stroke-opacity="0.5" stroke-width="1"/>
<path d="M524.3 209.4L529.24 212.99L527.35 218.8L521.25 218.8L519.36 212.99Z" fill="#1955a0" fill-opacity="0.82"/>
<path d="M524.3 212.3V215.9" stroke="#1955a0" stroke-opacity="0.5" stroke-width="1"/>
<path d="M558.6 204.7L563.54 208.29L561.65 214.1L555.55 214.1L553.66 208.29Z" fill="#1955a0" fill-opacity="0.82"/>
<path d="M558.6 202V217" stroke="#1955a0" stroke-opacity="0.82" stroke-width="1.2"/>
<path d="M577.7 201.9L582.64 205.49L580.75 211.3L574.65 211.3L572.76 205.49Z" fill="#1955a0" fill-opacity="0.82"/>
<path d="M577.7 204.8V208.4" stroke="#1955a0" stroke-opacity="0.5" stroke-width="1"/>
<path d="M607.8 203.8L612.74 207.39L610.85 213.2L604.75 213.2L602.86 207.39Z" fill="#1955a0" fill-opacity="0.82"/>
<path d="M607.8 206.7V210.3" stroke="#1955a0" stroke-opacity="0.5" stroke-width="1"/>
</g>
<path d="M41.1 148.5v10.5M41.1 285.6v-10.5M157.3 148.5v10.5M157.3 285.6v-10.5M273.5 148.5v10.5M273.5 285.6v-10.5M389.7 148.5v10.5M389.7 285.6v-10.5M505.9 148.5v10.5M505.9 285.6v-10.5M622.1 148.5v10.5M622.1 285.6v-10.5M29.5 259.75h10.5M633.5 259.75h-10.5M29.5 217.5h10.5M633.5 217.5h-10.5M29.5 175.25h10.5M633.5 175.25h-10.5" stroke="#000" stroke-width="1.6" fill="none"/>
<path d="M70.15 148.5v2.3M70.15 285.6v-2.3M99.2 148.5v2.3M99.2 285.6v-2.3M128.25 148.5v2.3M128.25 285.6v-2.3M186.35 148.5v2.3M186.35 285.6v-2.3M215.4 148.5v2.3M215.4 285.6v-2.3M244.45 148.5v2.3M244.45 285.6v-2.3M302.55 148.5v2.3M302.55 285.6v-2.3M331.6 148.5v2.3M331.6 285.6v-2.3M360.65 148.5v2.3M360.65 285.6v-2.3M418.75 148.5v2.3M418.75 285.6v-2.3M447.8 148.5v2.3M447.8 285.6v-2.3M476.85 148.5v2.3M476.85 285.6v-2.3M534.95 148.5v2.3M534.95 285.6v-2.3M564 148.5v2.3M564 285.6v-2.3M593.05 148.5v2.3M593.05 285.6v-2.3M29.5 285.1h2.3M633.5 285.1h-2.3M29.5 276.65h2.3M633.5 276.65h-2.3M29.5 268.2h2.3M633.5 268.2h-2.3M29.5 251.3h2.3M633.5 251.3h-2.3M29.5 242.85h2.3M633.5 242.85h-2.3M29.5 234.4h2.3M633.5 234.4h-2.3M29.5 225.95h2.3M633.5 225.95h-2.3M29.5 209.05h2.3M633.5 209.05h-2.3M29.5 200.6h2.3M633.5 200.6h-2.3M29.5 192.15h2.3M633.5 192.15h-2.3M29.5 183.7h2.3M633.5 183.7h-2.3M29.5 166.8h2.3M633.5 166.8h-2.3M29.5 158.35h2.3M633.5 158.35h-2.3M29.5 149.9h2.3M633.5 149.9h-2.3" stroke="#000" stroke-width="0.9" stroke-opacity="0.85" fill="none"/>
<rect x="29.5" y="148.5" width="604" height="137.1" fill="none" stroke="#000" stroke-width="1.2"/>
<clipPath id="clipC"><rect x="29.5" y="291.1" width="604" height="136.7"/></clipPath>
<g clip-path="url(#clipC)">
<path d="M60.85 363.45L67.15 363.45L64 369.75Z" fill="none" stroke="#962347" stroke-opacity="0.62" stroke-width="1.5" stroke-linejoin="miter"/>
<path d="M64 365.3V367.9" stroke="#962347" stroke-opacity="0.62" stroke-width="1"/>
<path d="M60.85 384.55L67.15 384.55L64 390.85Z" fill="none" stroke="#962347" stroke-opacity="0.62" stroke-width="1.5" stroke-linejoin="miter"/>
<path d="M64 386.4V389" stroke="#962347" stroke-opacity="0.62" stroke-width="1"/>
<path d="M79.25 352.15L85.55 352.15L82.4 358.45Z" fill="none" stroke="#962347" stroke-opacity="0.62" stroke-width="1.5" stroke-linejoin="miter"/>
<path d="M82.4 354V356.6" stroke="#962347" stroke-opacity="0.62" stroke-width="1"/>
<path d="M101.55 410.55L107.85 410.55L104.7 416.85Z" fill="none" stroke="#962347" stroke-opacity="0.62" stroke-width="1.5" stroke-linejoin="miter"/>
<path d="M104.7 412.4V415" stroke="#962347" stroke-opacity="0.62" stroke-width="1"/>
<path d="M121.85 378.35L128.15 378.35L125 384.65Z" fill="none" stroke="#962347" stroke-opacity="0.62" stroke-width="1.5" stroke-linejoin="miter"/>
<path d="M125 380.2V382.8" stroke="#962347" stroke-opacity="0.62" stroke-width="1"/>
<path d="M128.85 349.85L135.15 349.85L132 356.15Z" fill="none" stroke="#962347" stroke-opacity="0.62" stroke-width="1.5" stroke-linejoin="miter"/>
<path d="M132 351.7V354.3" stroke="#962347" stroke-opacity="0.62" stroke-width="1"/>
<path d="M136.45 375.95L142.75 375.95L139.6 382.25Z" fill="none" stroke="#962347" stroke-opacity="0.62" stroke-width="1.5" stroke-linejoin="miter"/>
<path d="M139.6 377.8V380.4" stroke="#962347" stroke-opacity="0.62" stroke-width="1"/>
<path d="M158.25 381.35L164.55 381.35L161.4 387.65Z" fill="none" stroke="#962347" stroke-opacity="0.62" stroke-width="1.5" stroke-linejoin="miter"/>
<path d="M161.4 383.2V385.8" stroke="#962347" stroke-opacity="0.62" stroke-width="1"/>
<path d="M203.75 373.15L210.05 373.15L206.9 379.45Z" fill="none" stroke="#962347" stroke-opacity="0.62" stroke-width="1.5" stroke-linejoin="miter"/>
<path d="M206.9 375V377.6" stroke="#962347" stroke-opacity="0.62" stroke-width="1"/>
<path d="M192.55 384.85L198.85 384.85L195.7 391.15Z" fill="none" stroke="#962347" stroke-opacity="0.62" stroke-width="1.5" stroke-linejoin="miter"/>
<path d="M195.7 386.7V389.3" stroke="#962347" stroke-opacity="0.62" stroke-width="1"/>
<path d="M212.55 389.75L218.85 389.75L215.7 396.05Z" fill="none" stroke="#962347" stroke-opacity="0.62" stroke-width="1.5" stroke-linejoin="miter"/>
<path d="M215.7 391.6V394.2" stroke="#962347" stroke-opacity="0.62" stroke-width="1"/>
<path d="M227.05 385.35L233.35 385.35L230.2 391.65Z" fill="none" stroke="#962347" stroke-opacity="0.62" stroke-width="1.5" stroke-linejoin="miter"/>
<path d="M230.2 387.2V389.8" stroke="#962347" stroke-opacity="0.62" stroke-width="1"/>
<path d="M255.35 376.65L261.65 376.65L258.5 382.95Z" fill="none" stroke="#962347" stroke-opacity="0.62" stroke-width="1.5" stroke-linejoin="miter"/>
<path d="M258.5 378.5V381.1" stroke="#962347" stroke-opacity="0.62" stroke-width="1"/>
<path d="M261.25 384.85L267.55 384.85L264.4 391.15Z" fill="none" stroke="#962347" stroke-opacity="0.62" stroke-width="1.5" stroke-linejoin="miter"/>
<path d="M264.4 386.7V389.3" stroke="#962347" stroke-opacity="0.62" stroke-width="1"/>
<path d="M266.45 384.55L272.75 384.55L269.6 390.85Z" fill="none" stroke="#962347" stroke-opacity="0.62" stroke-width="1.5" stroke-linejoin="miter"/>
<path d="M269.6 386.4V389" stroke="#962347" stroke-opacity="0.62" stroke-width="1"/>
<path d="M328.35 378.35L334.65 378.35L331.5 384.65Z" fill="none" stroke="#962347" stroke-opacity="0.62" stroke-width="1.5" stroke-linejoin="miter"/>
<path d="M331.5 380.2V382.8" stroke="#962347" stroke-opacity="0.62" stroke-width="1"/>
<path d="M334.75 379.25L341.05 379.25L337.9 385.55Z" fill="none" stroke="#962347" stroke-opacity="0.62" stroke-width="1.5" stroke-linejoin="miter"/>
<path d="M337.9 381.1V383.7" stroke="#962347" stroke-opacity="0.62" stroke-width="1"/>
<path d="M334.75 386.25L341.05 386.25L337.9 392.55Z" fill="none" stroke="#962347" stroke-opacity="0.62" stroke-width="1.5" stroke-linejoin="miter"/>
<path d="M337.9 388.1V390.7" stroke="#962347" stroke-opacity="0.62" stroke-width="1"/>
<path d="M351.95 356.85L358.25 356.85L355.1 363.15Z" fill="none" stroke="#962347" stroke-opacity="0.62" stroke-width="1.5" stroke-linejoin="miter"/>
<path d="M355.1 358.7V361.3" stroke="#962347" stroke-opacity="0.62" stroke-width="1"/>
<path d="M363.35 375.45L369.65 375.45L366.5 381.75Z" fill="none" stroke="#962347" stroke-opacity="0.62" stroke-width="1.5" stroke-linejoin="miter"/>
<path d="M366.5 377.3V379.9" stroke="#962347" stroke-opacity="0.62" stroke-width="1"/>
<path d="M260.55 409.15L266.85 409.15L263.7 415.45Z" fill="none" stroke="#962347" stroke-opacity="0.62" stroke-width="1.5" stroke-linejoin="miter"/>
<path d="M263.7 411V413.6" stroke="#962347" stroke-opacity="0.62" stroke-width="1"/>
<path d="M325.35 405.65L331.65 405.65L328.5 411.95Z" fill="none" stroke="#962347" stroke-opacity="0.62" stroke-width="1.5" stroke-linejoin="miter"/>
<path d="M328.5 407.5V410.1" stroke="#962347" stroke-opacity="0.62" stroke-width="1"/>
<path d="M425.05 355.75L431.35 355.75L428.2 362.05Z" fill="none" stroke="#962347" stroke-opacity="0.62" stroke-width="1.5" stroke-linejoin="miter"/>
<path d="M428.2 357.6V360.2" stroke="#962347" stroke-opacity="0.62" stroke-width="1"/>
<path d="M454.95 356.35L461.25 356.35L458.1 362.65Z" fill="none" stroke="#962347" stroke-opacity="0.62" stroke-width="1.5" stroke-linejoin="miter"/>
<path d="M458.1 358.2V360.8" stroke="#962347" stroke-opacity="0.62" stroke-width="1"/>
<path d="M458.15 379.85L464.45 379.85L461.3 386.15Z" fill="none" stroke="#962347" stroke-opacity="0.62" stroke-width="1.5" stroke-linejoin="miter"/>
<path d="M461.3 381.7V384.3" stroke="#962347" stroke-opacity="0.62" stroke-width="1"/>
<path d="M393.25 414.15L399.55 414.15L396.4 420.45Z" fill="none" stroke="#962347" stroke-opacity="0.62" stroke-width="1.5" stroke-linejoin="miter"/>
<path d="M396.4 416V418.6" stroke="#962347" stroke-opacity="0.62" stroke-width="1"/>
<path d="M445.35 420.65L451.65 420.65L448.5 426.95Z" fill="none" stroke="#962347" stroke-opacity="0.62" stroke-width="1.5" stroke-linejoin="miter"/>
<path d="M448.5 422.5V425.1" stroke="#962347" stroke-opacity="0.62" stroke-width="1"/>
<path d="M481.75 389.15L488.05 389.15L484.9 395.45Z" fill="none" stroke="#962347" stroke-opacity="0.62" stroke-width="1.5" stroke-linejoin="miter"/>
<path d="M484.9 391V393.6" stroke="#962347" stroke-opacity="0.62" stroke-width="1"/>
<path d="M488.25 386.85L494.55 386.85L491.4 393.15Z" fill="none" stroke="#962347" stroke-opacity="0.62" stroke-width="1.5" stroke-linejoin="miter"/>
<path d="M491.4 388.7V391.3" stroke="#962347" stroke-opacity="0.62" stroke-width="1"/>
<path d="M508.05 387.35L514.35 387.35L511.2 393.65Z" fill="none" stroke="#962347" stroke-opacity="0.62" stroke-width="1.5" stroke-linejoin="miter"/>
<path d="M511.2 389.2V391.8" stroke="#962347" stroke-opacity="0.62" stroke-width="1"/>
<path d="M527.25 402.65L533.55 402.65L530.4 408.95Z" fill="none" stroke="#962347" stroke-opacity="0.62" stroke-width="1.5" stroke-linejoin="miter"/>
<path d="M530.4 404.5V407.1" stroke="#962347" stroke-opacity="0.62" stroke-width="1"/>
<path d="M578.65 379.65L584.95 379.65L581.8 385.95Z" fill="none" stroke="#962347" stroke-opacity="0.62" stroke-width="1.5" stroke-linejoin="miter"/>
<path d="M581.8 381.5V384.1" stroke="#962347" stroke-opacity="0.62" stroke-width="1"/>
<path d="M616.95 357.15L623.25 357.15L620.1 363.45Z" fill="none" stroke="#962347" stroke-opacity="0.62" stroke-width="1.5" stroke-linejoin="miter"/>
<path d="M620.1 359V361.6" stroke="#962347" stroke-opacity="0.62" stroke-width="1"/>
<path d="M588.25 390.65L594.55 390.65L591.4 396.95Z" fill="none" stroke="#962347" stroke-opacity="0.62" stroke-width="1.5" stroke-linejoin="miter"/>
<path d="M591.4 392.5V395.1" stroke="#962347" stroke-opacity="0.62" stroke-width="1"/>
<path d="M41.1 354.78 L44.75 356.09 L48.41 357.48 L52.06 358.94 L55.72 360.47 L59.37 362.05 L63.02 363.68 L66.68 365.36 L70.33 367.07 L73.99 368.82 L77.64 370.59 L81.29 372.38 L84.95 374.18 L88.6 375.99 L92.26 377.79 L95.91 379.59 L99.57 381.38 L103.22 383.14 L106.87 384.89 L110.53 386.6 L114.18 388.28 L117.84 389.92 L121.49 391.52 L125.14 393.07 L128.8 394.57 L132.45 396.02 L136.11 397.41 L139.76 398.75 L143.41 400.02 L147.07 401.24 L150.72 402.39 L154.38 403.48 L158.03 404.51 L161.68 405.47 L165.34 406.38 L168.99 407.22 L172.65 408 L176.3 408.72 L179.96 409.39 L183.61 410 L187.26 410.56 L190.92 411.08 L194.57 411.54 L198.23 411.97 L201.88 412.35 L205.53 412.7 L209.19 413.01 L212.84 413.29 L216.5 413.55 L220.15 413.79 L223.8 414.01 L227.46 414.21 L231.11 414.4 L234.77 414.58 L238.42 414.76 L242.07 414.93 L245.73 415.1 L249.38 415.28 L253.04 415.46 L256.69 415.65 L260.35 415.85 L264 416.06 L267.65 416.28 L271.31 416.51 L274.96 416.76 L278.62 417.02 L282.27 417.29 L285.92 417.58 L289.58 417.87 L293.23 418.18 L296.89 418.5 L300.54 418.82 L304.19 419.15 L307.85 419.49 L311.5 419.82 L315.16 420.15 L318.81 420.48 L322.46 420.8 L326.12 421.1 L329.77 421.39 L333.43 421.66 L337.08 421.9 L340.74 422.12 L344.39 422.3 L348.04 422.45 L351.7 422.55 L355.35 422.61 L359.01 422.62 L362.66 422.58 L366.31 422.48 L369.97 422.32 L373.62 422.1 L377.28 421.8 L380.93 421.44 L384.58 421 L388.24 420.49 L391.89 419.9 L395.55 419.23 L399.2 418.47 L402.85 417.64 L406.51 416.72 L410.16 415.72 L413.82 414.63 L417.47 413.46 L421.13 412.21 L424.78 410.87 L428.43 409.46 L432.09 407.97 L435.74 406.41 L439.4 404.78 L443.05 403.08 L446.7 401.31 L450.36 399.49 L454.01 397.62 L457.67 395.69 L461.32 393.73 L464.97 391.72 L468.63 389.69 L472.28 387.63 L475.94 385.55 L479.59 383.46 L483.24 381.36 L486.9 379.27 L490.55 377.18 L494.21 375.11 L497.86 373.07 L501.52 371.06 L505.17 369.08 L508.82 367.15 L512.48 365.27 L516.13 363.45 L519.79 361.7 L523.44 360.02 L527.09 358.41 L530.75 356.89 L534.4 355.46 L538.06 354.13 L541.71 352.89 L545.36 351.76 L549.02 350.73 L552.67 349.82 L556.33 349.02 L559.98 348.34 L563.63 347.78 L567.29 347.33 L570.94 347.01 L574.6 346.82 L578.25 346.74 L581.91 346.79 L585.56 346.96 L589.21 347.25 L592.87 347.65 L596.52 348.17 L600.18 348.81 L603.83 349.55 L607.48 350.41 L611.14 351.36 L614.79 352.41 L618.45 353.55 L622.1 354.78" fill="none" stroke="#962347" stroke-opacity="0.85" stroke-width="1.5" stroke-linejoin="round"/>
<path d="M43.2 354.9L53.4 354.9L48.3 365.1Z" fill="#962347" fill-opacity="0.82"/>
<path d="M48.3 358.2V361.8" stroke="#962347" stroke-opacity="0.5" stroke-width="1"/>
<path d="M73.8 367.2L84 367.2L78.9 377.4Z" fill="#962347" fill-opacity="0.82"/>
<path d="M78.9 370.5V374.1" stroke="#962347" stroke-opacity="0.5" stroke-width="1"/>
<path d="M87.3 370.3L97.5 370.3L92.4 380.5Z" fill="#962347" fill-opacity="0.82"/>
<path d="M92.4 373.6V377.2" stroke="#962347" stroke-opacity="0.5" stroke-width="1"/>
<path d="M96.1 380.5L106.3 380.5L101.2 390.7Z" fill="#962347" fill-opacity="0.82"/>
<path d="M101.2 383.8V387.4" stroke="#962347" stroke-opacity="0.5" stroke-width="1"/>
<path d="M156.3 403.7L166.5 403.7L161.4 413.9Z" fill="#962347" fill-opacity="0.82"/>
<path d="M161.4 407V410.6" stroke="#962347" stroke-opacity="0.5" stroke-width="1"/>
<path d="M208.1 406.8L218.3 406.8L213.2 417Z" fill="#962347" fill-opacity="0.82"/>
<path d="M213.2 410.1V413.7" stroke="#962347" stroke-opacity="0.5" stroke-width="1"/>
<path d="M222.5 410.3L232.7 410.3L227.6 420.5Z" fill="#962347" fill-opacity="0.82"/>
<path d="M227.6 413.6V417.2" stroke="#962347" stroke-opacity="0.5" stroke-width="1"/>
<path d="M309.4 414.7L319.6 414.7L314.5 424.9Z" fill="#962347" fill-opacity="0.82"/>
<path d="M314.5 418V421.6" stroke="#962347" stroke-opacity="0.5" stroke-width="1"/>
<path d="M358.4 418.2L368.6 418.2L363.5 428.4Z" fill="#962347" fill-opacity="0.82"/>
<path d="M363.5 421.5V425.1" stroke="#962347" stroke-opacity="0.5" stroke-width="1"/>
<path d="M442.1 396L452.3 396L447.2 406.2Z" fill="#962347" fill-opacity="0.82"/>
<path d="M447.2 399.3V402.9" stroke="#962347" stroke-opacity="0.5" stroke-width="1"/>
<path d="M491.2 369.7L501.4 369.7L496.3 379.9Z" fill="#962347" fill-opacity="0.82"/>
<path d="M496.3 373V376.6" stroke="#962347" stroke-opacity="0.5" stroke-width="1"/>
<path d="M553.4 341.4L563.6 341.4L558.5 351.6Z" fill="#962347" fill-opacity="0.82"/>
<path d="M558.5 344.7V348.3" stroke="#962347" stroke-opacity="0.5" stroke-width="1"/>
<path d="M583.2 344.5L593.4 344.5L588.3 354.7Z" fill="#962347" fill-opacity="0.82"/>
<path d="M588.3 347.8V351.4" stroke="#962347" stroke-opacity="0.5" stroke-width="1"/>
<path d="M60.7 367.2h6.6v6.6h-6.6Z" fill="none" stroke="#d4a520" stroke-opacity="0.62" stroke-width="1.15" stroke-linejoin="miter"/>
<path d="M64 369.2V371.8" stroke="#d4a520" stroke-opacity="0.62" stroke-width="1"/>
<path d="M60.7 374.2h6.6v6.6h-6.6Z" fill="none" stroke="#d4a520" stroke-opacity="0.62" stroke-width="1.15" stroke-linejoin="miter"/>
<path d="M64 376.2V378.8" stroke="#d4a520" stroke-opacity="0.62" stroke-width="1"/>
<path d="M79.1 367.5h6.6v6.6h-6.6Z" fill="none" stroke="#d4a520" stroke-opacity="0.62" stroke-width="1.15" stroke-linejoin="miter"/>
<path d="M82.4 369.5V372.1" stroke="#d4a520" stroke-opacity="0.62" stroke-width="1"/>
<path d="M101.4 400.5h6.6v6.6h-6.6Z" fill="none" stroke="#d4a520" stroke-opacity="0.62" stroke-width="1.15" stroke-linejoin="miter"/>
<path d="M104.7 402.5V405.1" stroke="#d4a520" stroke-opacity="0.62" stroke-width="1"/>
<path d="M121.7 384.7h6.6v6.6h-6.6Z" fill="none" stroke="#d4a520" stroke-opacity="0.62" stroke-width="1.15" stroke-linejoin="miter"/>
<path d="M125 386.7V389.3" stroke="#d4a520" stroke-opacity="0.62" stroke-width="1"/>
<path d="M128.7 364.9h6.6v6.6h-6.6Z" fill="none" stroke="#d4a520" stroke-opacity="0.62" stroke-width="1.15" stroke-linejoin="miter"/>
<path d="M132 366.9V369.5" stroke="#d4a520" stroke-opacity="0.62" stroke-width="1"/>
<path d="M136.1 380.1h6.6v6.6h-6.6Z" fill="none" stroke="#d4a520" stroke-opacity="0.62" stroke-width="1.15" stroke-linejoin="miter"/>
<path d="M139.4 382.1V384.7" stroke="#d4a520" stroke-opacity="0.62" stroke-width="1"/>
<path d="M158.1 382.4h6.6v6.6h-6.6Z" fill="none" stroke="#d4a520" stroke-opacity="0.62" stroke-width="1.15" stroke-linejoin="miter"/>
<path d="M161.4 384.4V387" stroke="#d4a520" stroke-opacity="0.62" stroke-width="1"/>
<path d="M203.6 367.9h6.6v6.6h-6.6Z" fill="none" stroke="#d4a520" stroke-opacity="0.62" stroke-width="1.15" stroke-linejoin="miter"/>
<path d="M206.9 369.9V372.5" stroke="#d4a520" stroke-opacity="0.62" stroke-width="1"/>
<path d="M212.4 380.1h6.6v6.6h-6.6Z" fill="none" stroke="#d4a520" stroke-opacity="0.62" stroke-width="1.15" stroke-linejoin="miter"/>
<path d="M215.7 382.1V384.7" stroke="#d4a520" stroke-opacity="0.62" stroke-width="1"/>
<path d="M192.4 392h6.6v6.6h-6.6Z" fill="none" stroke="#d4a520" stroke-opacity="0.62" stroke-width="1.15" stroke-linejoin="miter"/>
<path d="M195.7 394V396.6" stroke="#d4a520" stroke-opacity="0.62" stroke-width="1"/>
<path d="M255.2 384.1h6.6v6.6h-6.6Z" fill="none" stroke="#d4a520" stroke-opacity="0.62" stroke-width="1.15" stroke-linejoin="miter"/>
<path d="M258.5 386.1V388.7" stroke="#d4a520" stroke-opacity="0.62" stroke-width="1"/>
<path d="M226.9 397.9h6.6v6.6h-6.6Z" fill="none" stroke="#d4a520" stroke-opacity="0.62" stroke-width="1.15" stroke-linejoin="miter"/>
<path d="M230.2 399.9V402.5" stroke="#d4a520" stroke-opacity="0.62" stroke-width="1"/>
<path d="M261.1 365.4h6.6v6.6h-6.6Z" fill="none" stroke="#d4a520" stroke-opacity="0.62" stroke-width="1.15" stroke-linejoin="miter"/>
<path d="M264.4 367.4V370" stroke="#d4a520" stroke-opacity="0.62" stroke-width="1"/>
<path d="M266.3 371.4h6.6v6.6h-6.6Z" fill="none" stroke="#d4a520" stroke-opacity="0.62" stroke-width="1.15" stroke-linejoin="miter"/>
<path d="M269.6 373.4V376" stroke="#d4a520" stroke-opacity="0.62" stroke-width="1"/>
<path d="M351.8 364h6.6v6.6h-6.6Z" fill="none" stroke="#d4a520" stroke-opacity="0.62" stroke-width="1.15" stroke-linejoin="miter"/>
<path d="M355.1 366V368.6" stroke="#d4a520" stroke-opacity="0.62" stroke-width="1"/>
<path d="M334.6 385.9h6.6v6.6h-6.6Z" fill="none" stroke="#d4a520" stroke-opacity="0.62" stroke-width="1.15" stroke-linejoin="miter"/>
<path d="M337.9 387.9V390.5" stroke="#d4a520" stroke-opacity="0.62" stroke-width="1"/>
<path d="M260.4 396.2h6.6v6.6h-6.6Z" fill="none" stroke="#d4a520" stroke-opacity="0.62" stroke-width="1.15" stroke-linejoin="miter"/>
<path d="M263.7 398.2V400.8" stroke="#d4a520" stroke-opacity="0.62" stroke-width="1"/>
<path d="M328.2 394.5h6.6v6.6h-6.6Z" fill="none" stroke="#d4a520" stroke-opacity="0.62" stroke-width="1.15" stroke-linejoin="miter"/>
<path d="M331.5 396.5V399.1" stroke="#d4a520" stroke-opacity="0.62" stroke-width="1"/>
<path d="M325.2 399.6h6.6v6.6h-6.6Z" fill="none" stroke="#d4a520" stroke-opacity="0.62" stroke-width="1.15" stroke-linejoin="miter"/>
<path d="M328.5 401.6V404.2" stroke="#d4a520" stroke-opacity="0.62" stroke-width="1"/>
<path d="M334.6 399.6h6.6v6.6h-6.6Z" fill="none" stroke="#d4a520" stroke-opacity="0.62" stroke-width="1.15" stroke-linejoin="miter"/>
<path d="M337.9 401.6V404.2" stroke="#d4a520" stroke-opacity="0.62" stroke-width="1"/>
<path d="M363.3 410.1h6.6v6.6h-6.6Z" fill="none" stroke="#d4a520" stroke-opacity="0.62" stroke-width="1.15" stroke-linejoin="miter"/>
<path d="M366.6 412.1V414.7" stroke="#d4a520" stroke-opacity="0.62" stroke-width="1"/>
<path d="M454.8 357.3h6.6v6.6h-6.6Z" fill="none" stroke="#d4a520" stroke-opacity="0.62" stroke-width="1.15" stroke-linejoin="miter"/>
<path d="M458.1 359.3V361.9" stroke="#d4a520" stroke-opacity="0.62" stroke-width="1"/>
<path d="M424.7 370.9h6.6v6.6h-6.6Z" fill="none" stroke="#d4a520" stroke-opacity="0.62" stroke-width="1.15" stroke-linejoin="miter"/>
<path d="M428 372.9V375.5" stroke="#d4a520" stroke-opacity="0.62" stroke-width="1"/>
<path d="M393.1 394h6.6v6.6h-6.6Z" fill="none" stroke="#d4a520" stroke-opacity="0.62" stroke-width="1.15" stroke-linejoin="miter"/>
<path d="M396.4 396V398.6" stroke="#d4a520" stroke-opacity="0.62" stroke-width="1"/>
<path d="M458 388.4h6.6v6.6h-6.6Z" fill="none" stroke="#d4a520" stroke-opacity="0.62" stroke-width="1.15" stroke-linejoin="miter"/>
<path d="M461.3 390.4V393" stroke="#d4a520" stroke-opacity="0.62" stroke-width="1"/>
<path d="M481.6 384.9h6.6v6.6h-6.6Z" fill="none" stroke="#d4a520" stroke-opacity="0.62" stroke-width="1.15" stroke-linejoin="miter"/>
<path d="M484.9 386.9V389.5" stroke="#d4a520" stroke-opacity="0.62" stroke-width="1"/>
<path d="M488.1 384.9h6.6v6.6h-6.6Z" fill="none" stroke="#d4a520" stroke-opacity="0.62" stroke-width="1.15" stroke-linejoin="miter"/>
<path d="M491.4 386.9V389.5" stroke="#d4a520" stroke-opacity="0.62" stroke-width="1"/>
<path d="M507.9 384.4h6.6v6.6h-6.6Z" fill="none" stroke="#d4a520" stroke-opacity="0.62" stroke-width="1.15" stroke-linejoin="miter"/>
<path d="M511.2 386.4V389" stroke="#d4a520" stroke-opacity="0.62" stroke-width="1"/>
<path d="M527.1 393.7h6.6v6.6h-6.6Z" fill="none" stroke="#d4a520" stroke-opacity="0.62" stroke-width="1.15" stroke-linejoin="miter"/>
<path d="M530.4 395.7V398.3" stroke="#d4a520" stroke-opacity="0.62" stroke-width="1"/>
<path d="M578.5 376.6h6.6v6.6h-6.6Z" fill="none" stroke="#d4a520" stroke-opacity="0.62" stroke-width="1.15" stroke-linejoin="miter"/>
<path d="M581.8 378.6V381.2" stroke="#d4a520" stroke-opacity="0.62" stroke-width="1"/>
<path d="M616.8 371.7h6.6v6.6h-6.6Z" fill="none" stroke="#d4a520" stroke-opacity="0.62" stroke-width="1.15" stroke-linejoin="miter"/>
<path d="M620.1 373.7V376.3" stroke="#d4a520" stroke-opacity="0.62" stroke-width="1"/>
<path d="M41.1 377.75 L44.75 378.06 L48.41 378.42 L52.06 378.83 L55.72 379.29 L59.37 379.79 L63.02 380.33 L66.68 380.92 L70.33 381.54 L73.99 382.2 L77.64 382.88 L81.29 383.59 L84.95 384.32 L88.6 385.08 L92.26 385.84 L95.91 386.62 L99.57 387.41 L103.22 388.2 L106.87 388.99 L110.53 389.78 L114.18 390.56 L117.84 391.33 L121.49 392.08 L125.14 392.82 L128.8 393.53 L132.45 394.22 L136.11 394.89 L139.76 395.52 L143.41 396.13 L147.07 396.7 L150.72 397.23 L154.38 397.72 L158.03 398.18 L161.68 398.6 L165.34 398.97 L168.99 399.3 L172.65 399.59 L176.3 399.84 L179.96 400.05 L183.61 400.21 L187.26 400.33 L190.92 400.41 L194.57 400.46 L198.23 400.46 L201.88 400.43 L205.53 400.36 L209.19 400.27 L212.84 400.14 L216.5 399.98 L220.15 399.8 L223.8 399.6 L227.46 399.38 L231.11 399.14 L234.77 398.88 L238.42 398.62 L242.07 398.35 L245.73 398.07 L249.38 397.79 L253.04 397.51 L256.69 397.24 L260.35 396.97 L264 396.72 L267.65 396.47 L271.31 396.24 L274.96 396.03 L278.62 395.84 L282.27 395.66 L285.92 395.52 L289.58 395.39 L293.23 395.3 L296.89 395.23 L300.54 395.18 L304.19 395.17 L307.85 395.19 L311.5 395.23 L315.16 395.31 L318.81 395.42 L322.46 395.55 L326.12 395.72 L329.77 395.91 L333.43 396.12 L337.08 396.36 L340.74 396.62 L344.39 396.91 L348.04 397.21 L351.7 397.53 L355.35 397.86 L359.01 398.2 L362.66 398.55 L366.31 398.91 L369.97 399.27 L373.62 399.62 L377.28 399.98 L380.93 400.33 L384.58 400.66 L388.24 400.99 L391.89 401.3 L395.55 401.59 L399.2 401.86 L402.85 402.1 L406.51 402.31 L410.16 402.5 L413.82 402.65 L417.47 402.77 L421.13 402.85 L424.78 402.89 L428.43 402.88 L432.09 402.84 L435.74 402.75 L439.4 402.62 L443.05 402.44 L446.7 402.21 L450.36 401.94 L454.01 401.62 L457.67 401.26 L461.32 400.85 L464.97 400.39 L468.63 399.9 L472.28 399.36 L475.94 398.78 L479.59 398.16 L483.24 397.5 L486.9 396.81 L490.55 396.09 L494.21 395.34 L497.86 394.57 L501.52 393.77 L505.17 392.96 L508.82 392.13 L512.48 391.28 L516.13 390.43 L519.79 389.58 L523.44 388.72 L527.09 387.87 L530.75 387.03 L534.4 386.2 L538.06 385.38 L541.71 384.59 L545.36 383.81 L549.02 383.06 L552.67 382.35 L556.33 381.66 L559.98 381.02 L563.63 380.41 L567.29 379.85 L570.94 379.33 L574.6 378.86 L578.25 378.44 L581.91 378.07 L585.56 377.76 L589.21 377.5 L592.87 377.3 L596.52 377.15 L600.18 377.06 L603.83 377.03 L607.48 377.06 L611.14 377.15 L614.79 377.29 L618.45 377.49 L622.1 377.75" fill="none" stroke="#d4a520" stroke-opacity="0.85" stroke-width="1.5" stroke-linejoin="round"/>
<path d="M43.35 368.45h9.9v9.9h-9.9Z" fill="#d4a520" fill-opacity="0.82"/>
<path d="M48.3 371.6V375.2" stroke="#d4a520" stroke-opacity="0.5" stroke-width="1"/>
<path d="M74.85 376.35h9.9v9.9h-9.9Z" fill="#d4a520" fill-opacity="0.82"/>
<path d="M79.8 379.5V383.1" stroke="#d4a520" stroke-opacity="0.5" stroke-width="1"/>
<path d="M87.45 379.55h9.9v9.9h-9.9Z" fill="#d4a520" fill-opacity="0.82"/>
<path d="M92.4 382.7V386.3" stroke="#d4a520" stroke-opacity="0.5" stroke-width="1"/>
<path d="M96.25 389.55h9.9v9.9h-9.9Z" fill="#d4a520" fill-opacity="0.82"/>
<path d="M101.2 392.7V396.3" stroke="#d4a520" stroke-opacity="0.5" stroke-width="1"/>
<path d="M156.45 394.85h9.9v9.9h-9.9Z" fill="#d4a520" fill-opacity="0.82"/>
<path d="M161.4 398V401.6" stroke="#d4a520" stroke-opacity="0.5" stroke-width="1"/>
<path d="M208.45 391.55h9.9v9.9h-9.9Z" fill="#d4a520" fill-opacity="0.82"/>
<path d="M213.4 394.7V398.3" stroke="#d4a520" stroke-opacity="0.5" stroke-width="1"/>
<path d="M222.45 392.05h9.9v9.9h-9.9Z" fill="#d4a520" fill-opacity="0.82"/>
<path d="M227.4 395.2V398.8" stroke="#d4a520" stroke-opacity="0.5" stroke-width="1"/>
<path d="M309.35 394.55h9.9v9.9h-9.9Z" fill="#d4a520" fill-opacity="0.82"/>
<path d="M314.3 397.7V401.3" stroke="#d4a520" stroke-opacity="0.5" stroke-width="1"/>
<path d="M358.95 392.55h9.9v9.9h-9.9Z" fill="#d4a520" fill-opacity="0.82"/>
<path d="M363.9 395.7V399.3" stroke="#d4a520" stroke-opacity="0.5" stroke-width="1"/>
<path d="M442.25 395.85h9.9v9.9h-9.9Z" fill="#d4a520" fill-opacity="0.82"/>
<path d="M447.2 399V402.6" stroke="#d4a520" stroke-opacity="0.5" stroke-width="1"/>
<path d="M491.35 390.95h9.9v9.9h-9.9Z" fill="#d4a520" fill-opacity="0.82"/>
<path d="M496.3 394.1V397.7" stroke="#d4a520" stroke-opacity="0.5" stroke-width="1"/>
<path d="M553.55 372.75h9.9v9.9h-9.9Z" fill="#d4a520" fill-opacity="0.82"/>
<path d="M558.5 375.9V379.5" stroke="#d4a520" stroke-opacity="0.5" stroke-width="1"/>
<path d="M582.85 381.75h9.9v9.9h-9.9Z" fill="#d4a520" fill-opacity="0.82"/>
<path d="M587.8 384.9V388.5" stroke="#d4a520" stroke-opacity="0.5" stroke-width="1"/>
<path d="M63.7 335.6L67.17 338.12L65.84 342.2L61.56 342.2L60.23 338.12Z" fill="none" stroke="#1955a0" stroke-opacity="0.62" stroke-width="1.15" stroke-linejoin="miter"/>
<path d="M63.7 337.6V340.2" stroke="#1955a0" stroke-opacity="0.62" stroke-width="1"/>
<path d="M64 353.8L67.47 356.32L66.14 360.4L61.86 360.4L60.53 356.32Z" fill="none" stroke="#1955a0" stroke-opacity="0.62" stroke-width="1.15" stroke-linejoin="miter"/>
<path d="M64 355.8V358.4" stroke="#1955a0" stroke-opacity="0.62" stroke-width="1"/>
<path d="M82.4 373.6L85.87 376.12L84.54 380.2L80.26 380.2L78.93 376.12Z" fill="none" stroke="#1955a0" stroke-opacity="0.62" stroke-width="1.15" stroke-linejoin="miter"/>
<path d="M82.4 375.6V378.2" stroke="#1955a0" stroke-opacity="0.62" stroke-width="1"/>
<path d="M104.7 389L108.17 391.52L106.84 395.6L102.56 395.6L101.23 391.52Z" fill="none" stroke="#1955a0" stroke-opacity="0.62" stroke-width="1.15" stroke-linejoin="miter"/>
<path d="M104.7 391V393.6" stroke="#1955a0" stroke-opacity="0.62" stroke-width="1"/>
<path d="M125 376.3L128.47 378.82L127.14 382.9L122.86 382.9L121.53 378.82Z" fill="none" stroke="#1955a0" stroke-opacity="0.62" stroke-width="1.15" stroke-linejoin="miter"/>
<path d="M125 373V386" stroke="#1955a0" stroke-opacity="0.62" stroke-width="1"/>
<path d="M132.4 371L135.87 373.52L134.54 377.6L130.26 377.6L128.93 373.52Z" fill="none" stroke="#1955a0" stroke-opacity="0.62" stroke-width="1.15" stroke-linejoin="miter"/>
<path d="M132.4 373V375.6" stroke="#1955a0" stroke-opacity="0.62" stroke-width="1"/>
<path d="M139.8 356.1L143.27 358.62L141.94 362.7L137.66 362.7L136.33 358.62Z" fill="none" stroke="#1955a0" stroke-opacity="0.62" stroke-width="1.15" stroke-linejoin="miter"/>
<path d="M139.8 358.1V360.7" stroke="#1955a0" stroke-opacity="0.62" stroke-width="1"/>
<path d="M161.4 368.9L164.87 371.42L163.54 375.5L159.26 375.5L157.93 371.42Z" fill="none" stroke="#1955a0" stroke-opacity="0.62" stroke-width="1.15" stroke-linejoin="miter"/>
<path d="M161.4 366V378" stroke="#1955a0" stroke-opacity="0.62" stroke-width="1"/>
<path d="M216.2 355.6L219.67 358.12L218.34 362.2L214.06 362.2L212.73 358.12Z" fill="none" stroke="#1955a0" stroke-opacity="0.62" stroke-width="1.15" stroke-linejoin="miter"/>
<path d="M216.2 357.6V360.2" stroke="#1955a0" stroke-opacity="0.62" stroke-width="1"/>
<path d="M195.7 375.4L199.17 377.92L197.84 382L193.56 382L192.23 377.92Z" fill="none" stroke="#1955a0" stroke-opacity="0.62" stroke-width="1.15" stroke-linejoin="miter"/>
<path d="M195.7 377.4V380" stroke="#1955a0" stroke-opacity="0.62" stroke-width="1"/>
<path d="M206.6 387.1L210.07 389.62L208.74 393.7L204.46 393.7L203.13 389.62Z" fill="none" stroke="#1955a0" stroke-opacity="0.62" stroke-width="1.15" stroke-linejoin="miter"/>
<path d="M206.6 383V399" stroke="#1955a0" stroke-opacity="0.62" stroke-width="1"/>
<path d="M258.7 385.7L262.17 388.22L260.84 392.3L256.56 392.3L255.23 388.22Z" fill="none" stroke="#1955a0" stroke-opacity="0.62" stroke-width="1.15" stroke-linejoin="miter"/>
<path d="M258.7 387.7V390.3" stroke="#1955a0" stroke-opacity="0.62" stroke-width="1"/>
<path d="M264.4 343.9L267.87 346.42L266.54 350.5L262.26 350.5L260.93 346.42Z" fill="none" stroke="#1955a0" stroke-opacity="0.62" stroke-width="1.15" stroke-linejoin="miter"/>
<path d="M264.4 345.9V348.5" stroke="#1955a0" stroke-opacity="0.62" stroke-width="1"/>
<path d="M263.7 349.6L267.17 352.12L265.84 356.2L261.56 356.2L260.23 352.12Z" fill="none" stroke="#1955a0" stroke-opacity="0.62" stroke-width="1.15" stroke-linejoin="miter"/>
<path d="M263.7 351.6V354.2" stroke="#1955a0" stroke-opacity="0.62" stroke-width="1"/>
<path d="M269.6 350.3L273.07 352.82L271.74 356.9L267.46 356.9L266.13 352.82Z" fill="none" stroke="#1955a0" stroke-opacity="0.62" stroke-width="1.15" stroke-linejoin="miter"/>
<path d="M269.6 352.3V354.9" stroke="#1955a0" stroke-opacity="0.62" stroke-width="1"/>
<path d="M331.5 353.8L334.97 356.32L333.64 360.4L329.36 360.4L328.03 356.32Z" fill="none" stroke="#1955a0" stroke-opacity="0.62" stroke-width="1.15" stroke-linejoin="miter"/>
<path d="M331.5 351V363" stroke="#1955a0" stroke-opacity="0.62" stroke-width="1"/>
<path d="M337.9 360.1L341.37 362.62L340.04 366.7L335.76 366.7L334.43 362.62Z" fill="none" stroke="#1955a0" stroke-opacity="0.62" stroke-width="1.15" stroke-linejoin="miter"/>
<path d="M337.9 362.1V364.7" stroke="#1955a0" stroke-opacity="0.62" stroke-width="1"/>
<path d="M337.6 366.1L341.07 368.62L339.74 372.7L335.46 372.7L334.13 368.62Z" fill="none" stroke="#1955a0" stroke-opacity="0.62" stroke-width="1.15" stroke-linejoin="miter"/>
<path d="M337.6 368.1V370.7" stroke="#1955a0" stroke-opacity="0.62" stroke-width="1"/>
<path d="M354.8 355.6L358.27 358.12L356.94 362.2L352.66 362.2L351.33 358.12Z" fill="none" stroke="#1955a0" stroke-opacity="0.62" stroke-width="1.15" stroke-linejoin="miter"/>
<path d="M354.8 353V365" stroke="#1955a0" stroke-opacity="0.62" stroke-width="1"/>
<path d="M328.5 386.4L331.97 388.92L330.64 393L326.36 393L325.03 388.92Z" fill="none" stroke="#1955a0" stroke-opacity="0.62" stroke-width="1.15" stroke-linejoin="miter"/>
<path d="M328.5 384V396" stroke="#1955a0" stroke-opacity="0.62" stroke-width="1"/>
<path d="M366.6 378.7L370.07 381.22L368.74 385.3L364.46 385.3L363.13 381.22Z" fill="none" stroke="#1955a0" stroke-opacity="0.62" stroke-width="1.15" stroke-linejoin="miter"/>
<path d="M366.6 380.7V383.3" stroke="#1955a0" stroke-opacity="0.62" stroke-width="1"/>
<path d="M396.4 314.1L399.87 316.62L398.54 320.7L394.26 320.7L392.93 316.62Z" fill="none" stroke="#1955a0" stroke-opacity="0.62" stroke-width="1.15" stroke-linejoin="miter"/>
<path d="M396.4 308.7V327" stroke="#1955a0" stroke-opacity="0.62" stroke-width="1"/>
<path d="M428 371.1L431.47 373.62L430.14 377.7L425.86 377.7L424.53 373.62Z" fill="none" stroke="#1955a0" stroke-opacity="0.62" stroke-width="1.15" stroke-linejoin="miter"/>
<path d="M428 368V382.5" stroke="#1955a0" stroke-opacity="0.62" stroke-width="1"/>
<path d="M448.5 371.2L451.97 373.72L450.64 377.8L446.36 377.8L445.03 373.72Z" fill="none" stroke="#1955a0" stroke-opacity="0.62" stroke-width="1.15" stroke-linejoin="miter"/>
<path d="M448.5 373.2V375.8" stroke="#1955a0" stroke-opacity="0.62" stroke-width="1"/>
<path d="M458.1 384.4L461.57 386.92L460.24 391L455.96 391L454.63 386.92Z" fill="none" stroke="#1955a0" stroke-opacity="0.62" stroke-width="1.15" stroke-linejoin="miter"/>
<path d="M458.1 375.4V400" stroke="#1955a0" stroke-opacity="0.62" stroke-width="1"/>
<path d="M461.3 388.4L464.77 390.92L463.44 395L459.16 395L457.83 390.92Z" fill="none" stroke="#1955a0" stroke-opacity="0.62" stroke-width="1.15" stroke-linejoin="miter"/>
<path d="M461.3 390.4V393" stroke="#1955a0" stroke-opacity="0.62" stroke-width="1"/>
<path d="M484.9 348.6L488.37 351.12L487.04 355.2L482.76 355.2L481.43 351.12Z" fill="none" stroke="#1955a0" stroke-opacity="0.62" stroke-width="1.15" stroke-linejoin="miter"/>
<path d="M484.9 346V358" stroke="#1955a0" stroke-opacity="0.62" stroke-width="1"/>
<path d="M530.4 357.5L533.87 360.02L532.54 364.1L528.26 364.1L526.93 360.02Z" fill="none" stroke="#1955a0" stroke-opacity="0.62" stroke-width="1.15" stroke-linejoin="miter"/>
<path d="M530.4 359.5V362.1" stroke="#1955a0" stroke-opacity="0.62" stroke-width="1"/>
<path d="M511.2 375.6L514.67 378.12L513.34 382.2L509.06 382.2L507.73 378.12Z" fill="none" stroke="#1955a0" stroke-opacity="0.62" stroke-width="1.15" stroke-linejoin="miter"/>
<path d="M511.2 373V385" stroke="#1955a0" stroke-opacity="0.62" stroke-width="1"/>
<path d="M491.4 381.7L494.87 384.22L493.54 388.3L489.26 388.3L487.93 384.22Z" fill="none" stroke="#1955a0" stroke-opacity="0.62" stroke-width="1.15" stroke-linejoin="miter"/>
<path d="M491.4 383.7V386.3" stroke="#1955a0" stroke-opacity="0.62" stroke-width="1"/>
<path d="M581.8 372.5L585.27 375.02L583.94 379.1L579.66 379.1L578.33 375.02Z" fill="none" stroke="#1955a0" stroke-opacity="0.62" stroke-width="1.15" stroke-linejoin="miter"/>
<path d="M581.8 374.5V377.1" stroke="#1955a0" stroke-opacity="0.62" stroke-width="1"/>
<path d="M592 373.8L595.47 376.32L594.14 380.4L589.86 380.4L588.53 376.32Z" fill="none" stroke="#1955a0" stroke-opacity="0.62" stroke-width="1.15" stroke-linejoin="miter"/>
<path d="M592 371V383" stroke="#1955a0" stroke-opacity="0.62" stroke-width="1"/>
<path d="M620.1 403.5L623.57 406.02L622.24 410.1L617.96 410.1L616.63 406.02Z" fill="none" stroke="#1955a0" stroke-opacity="0.62" stroke-width="1.15" stroke-linejoin="miter"/>
<path d="M620.1 405.5V408.1" stroke="#1955a0" stroke-opacity="0.62" stroke-width="1"/>
<path d="M41.1 387.25 L44.75 387.4 L48.41 387.45 L52.06 387.4 L55.72 387.25 L59.37 387.01 L63.02 386.68 L66.68 386.27 L70.33 385.79 L73.99 385.23 L77.64 384.62 L81.29 383.94 L84.95 383.22 L88.6 382.45 L92.26 381.64 L95.91 380.8 L99.57 379.94 L103.22 379.07 L106.87 378.18 L110.53 377.29 L114.18 376.4 L117.84 375.51 L121.49 374.64 L125.14 373.79 L128.8 372.96 L132.45 372.16 L136.11 371.39 L139.76 370.66 L143.41 369.97 L147.07 369.31 L150.72 368.7 L154.38 368.14 L158.03 367.62 L161.68 367.15 L165.34 366.73 L168.99 366.36 L172.65 366.03 L176.3 365.75 L179.96 365.51 L183.61 365.32 L187.26 365.16 L190.92 365.04 L194.57 364.95 L198.23 364.89 L201.88 364.85 L205.53 364.84 L209.19 364.83 L212.84 364.84 L216.5 364.86 L220.15 364.87 L223.8 364.88 L227.46 364.88 L231.11 364.87 L234.77 364.83 L238.42 364.76 L242.07 364.66 L245.73 364.52 L249.38 364.34 L253.04 364.11 L256.69 363.83 L260.35 363.5 L264 363.1 L267.65 362.64 L271.31 362.11 L274.96 361.52 L278.62 360.85 L282.27 360.11 L285.92 359.29 L289.58 358.4 L293.23 357.43 L296.89 356.39 L300.54 355.28 L304.19 354.09 L307.85 352.83 L311.5 351.5 L315.16 350.11 L318.81 348.66 L322.46 347.15 L326.12 345.58 L329.77 343.97 L333.43 342.32 L337.08 340.63 L340.74 338.91 L344.39 337.17 L348.04 335.42 L351.7 333.65 L355.35 331.88 L359.01 330.12 L362.66 328.38 L366.31 326.66 L369.97 324.96 L373.62 323.31 L377.28 321.71 L380.93 320.16 L384.58 318.67 L388.24 317.25 L391.89 315.91 L395.55 314.66 L399.2 313.5 L402.85 312.44 L406.51 311.48 L410.16 310.63 L413.82 309.9 L417.47 309.29 L421.13 308.81 L424.78 308.46 L428.43 308.24 L432.09 308.15 L435.74 308.2 L439.4 308.39 L443.05 308.72 L446.7 309.19 L450.36 309.8 L454.01 310.55 L457.67 311.43 L461.32 312.44 L464.97 313.59 L468.63 314.86 L472.28 316.25 L475.94 317.76 L479.59 319.38 L483.24 321.11 L486.9 322.94 L490.55 324.86 L494.21 326.86 L497.86 328.94 L501.52 331.09 L505.17 333.3 L508.82 335.56 L512.48 337.87 L516.13 340.21 L519.79 342.57 L523.44 344.95 L527.09 347.33 L530.75 349.72 L534.4 352.09 L538.06 354.44 L541.71 356.76 L545.36 359.04 L549.02 361.28 L552.67 363.46 L556.33 365.58 L559.98 367.63 L563.63 369.6 L567.29 371.49 L570.94 373.29 L574.6 375 L578.25 376.61 L581.91 378.12 L585.56 379.52 L589.21 380.81 L592.87 381.98 L596.52 383.05 L600.18 383.99 L603.83 384.82 L607.48 385.54 L611.14 386.14 L614.79 386.62 L618.45 386.99 L622.1 387.25" fill="none" stroke="#1955a0" stroke-opacity="0.85" stroke-width="1.5" stroke-linejoin="round"/>
<path d="M48.3 374.9L53.24 378.49L51.35 384.3L45.25 384.3L43.36 378.49Z" fill="#1955a0" fill-opacity="0.82"/>
<path d="M48.3 377.8V381.4" stroke="#1955a0" stroke-opacity="0.5" stroke-width="1"/>
<path d="M79.8 379.8L84.74 383.39L82.85 389.2L76.75 389.2L74.86 383.39Z" fill="#1955a0" fill-opacity="0.82"/>
<path d="M79.8 382.7V386.3" stroke="#1955a0" stroke-opacity="0.5" stroke-width="1"/>
<path d="M92.4 377.5L97.34 381.09L95.45 386.9L89.35 386.9L87.46 381.09Z" fill="#1955a0" fill-opacity="0.82"/>
<path d="M92.4 380.4V384" stroke="#1955a0" stroke-opacity="0.5" stroke-width="1"/>
<path d="M101.2 391.1L106.14 394.69L104.25 400.5L98.15 400.5L96.26 394.69Z" fill="#1955a0" fill-opacity="0.82"/>
<path d="M101.2 394V397.6" stroke="#1955a0" stroke-opacity="0.5" stroke-width="1"/>
<path d="M161.4 358.2L166.34 361.79L164.45 367.6L158.35 367.6L156.46 361.79Z" fill="#1955a0" fill-opacity="0.82"/>
<path d="M161.4 357V369" stroke="#1955a0" stroke-opacity="0.82" stroke-width="1.2"/>
<path d="M212.7 357.3L217.64 360.89L215.75 366.7L209.65 366.7L207.76 360.89Z" fill="#1955a0" fill-opacity="0.82"/>
<path d="M212.7 353V372" stroke="#1955a0" stroke-opacity="0.82" stroke-width="1.2"/>
<path d="M227.6 360.8L232.54 364.39L230.65 370.2L224.55 370.2L222.66 364.39Z" fill="#1955a0" fill-opacity="0.82"/>
<path d="M227.6 363.7V367.3" stroke="#1955a0" stroke-opacity="0.5" stroke-width="1"/>
<path d="M230.2 361.7L235.14 365.29L233.25 371.1L227.15 371.1L225.26 365.29Z" fill="#1955a0" fill-opacity="0.82"/>
<path d="M230.2 364.6V368.2" stroke="#1955a0" stroke-opacity="0.5" stroke-width="1"/>
<path d="M314.5 340.7L319.44 344.29L317.55 350.1L311.45 350.1L309.56 344.29Z" fill="#1955a0" fill-opacity="0.82"/>
<path d="M314.5 339V351.5" stroke="#1955a0" stroke-opacity="0.82" stroke-width="1.2"/>
<path d="M363.5 326.7L368.44 330.29L366.55 336.1L360.45 336.1L358.56 330.29Z" fill="#1955a0" fill-opacity="0.82"/>
<path d="M363.5 329.6V333.2" stroke="#1955a0" stroke-opacity="0.5" stroke-width="1"/>
<path d="M446.7 290.8L451.64 294.39L449.75 300.2L443.65 300.2L441.76 294.39Z" fill="#1955a0" fill-opacity="0.82"/>
<path d="M446.7 292V302.5" stroke="#1955a0" stroke-opacity="0.82" stroke-width="1.2"/>
<path d="M496.6 325.5L501.54 329.09L499.65 334.9L493.55 334.9L491.66 329.09Z" fill="#1955a0" fill-opacity="0.82"/>
<path d="M496.6 324V337" stroke="#1955a0" stroke-opacity="0.82" stroke-width="1.2"/>
<path d="M558.5 361.3L563.44 364.89L561.55 370.7L555.45 370.7L553.56 364.89Z" fill="#1955a0" fill-opacity="0.82"/>
<path d="M558.5 364.2V367.8" stroke="#1955a0" stroke-opacity="0.5" stroke-width="1"/>
<path d="M588 380.8L592.94 384.39L591.05 390.2L584.95 390.2L583.06 384.39Z" fill="#1955a0" fill-opacity="0.82"/>
<path d="M588 383.7V387.3" stroke="#1955a0" stroke-opacity="0.5" stroke-width="1"/>
</g>
<path d="M41.1 291.1v10.5M41.1 427.8v-10.5M157.3 291.1v10.5M157.3 427.8v-10.5M273.5 291.1v10.5M273.5 427.8v-10.5M389.7 291.1v10.5M389.7 427.8v-10.5M505.9 291.1v10.5M505.9 427.8v-10.5M622.1 291.1v10.5M622.1 427.8v-10.5M29.5 420.8h10.5M633.5 420.8h-10.5M29.5 380.9h10.5M633.5 380.9h-10.5M29.5 341h10.5M633.5 341h-10.5M29.5 301.1h10.5M633.5 301.1h-10.5" stroke="#000" stroke-width="1.6" fill="none"/>
<path d="M70.15 291.1v2.3M70.15 427.8v-2.3M99.2 291.1v2.3M99.2 427.8v-2.3M128.25 291.1v2.3M128.25 427.8v-2.3M186.35 291.1v2.3M186.35 427.8v-2.3M215.4 291.1v2.3M215.4 427.8v-2.3M244.45 291.1v2.3M244.45 427.8v-2.3M302.55 291.1v2.3M302.55 427.8v-2.3M331.6 291.1v2.3M331.6 427.8v-2.3M360.65 291.1v2.3M360.65 427.8v-2.3M418.75 291.1v2.3M418.75 427.8v-2.3M447.8 291.1v2.3M447.8 427.8v-2.3M476.85 291.1v2.3M476.85 427.8v-2.3M534.95 291.1v2.3M534.95 427.8v-2.3M564 291.1v2.3M564 427.8v-2.3M593.05 291.1v2.3M593.05 427.8v-2.3M29.5 412.82h2.3M633.5 412.82h-2.3M29.5 404.84h2.3M633.5 404.84h-2.3M29.5 396.86h2.3M633.5 396.86h-2.3M29.5 388.88h2.3M633.5 388.88h-2.3M29.5 372.92h2.3M633.5 372.92h-2.3M29.5 364.94h2.3M633.5 364.94h-2.3M29.5 356.96h2.3M633.5 356.96h-2.3M29.5 348.98h2.3M633.5 348.98h-2.3M29.5 333.02h2.3M633.5 333.02h-2.3M29.5 325.04h2.3M633.5 325.04h-2.3M29.5 317.06h2.3M633.5 317.06h-2.3M29.5 309.08h2.3M633.5 309.08h-2.3M29.5 293.12h2.3M633.5 293.12h-2.3" stroke="#000" stroke-width="0.9" stroke-opacity="0.85" fill="none"/>
<rect x="29.5" y="291.1" width="604" height="136.7" fill="none" stroke="#000" stroke-width="1.2"/>
<path d="M143.6 165.8H154.6" stroke="#962347" stroke-width="1.8" stroke-opacity="0.8"/>
<path d="M156.6 161.6L165.6 161.6L161.1 170.6Z" fill="#962347"/>
<path d="M238.9 166H250" stroke="#d4a520" stroke-width="1.8" stroke-opacity="0.8"/>
<path d="M252.1 161.8h8v8h-8Z" fill="#d4a520"/>
<path d="M377 165.9H388" stroke="#1955a0" stroke-width="1.8" stroke-opacity="0.8"/>
<path d="M394.4 161.4L398.82 164.61L397.13 169.8L391.67 169.8L389.98 164.61Z" fill="#1955a0"/>
<filter id="gs" x="0" y="0" width="685" height="463" filterUnits="userSpaceOnUse"><feColorMatrix type="saturate" values="0"/></filter>
<g filter="url(#gs)">
<text x="637.4" y="115.5" font-size="16">-0.2</text>
<text x="637.4" y="75.7" font-size="16">0.0</text>
<text x="637.4" y="35.9" font-size="16">0.2</text>
<text x="637.4" y="265.55" font-size="16">-0.5</text>
<text x="637.4" y="223.3" font-size="16">0.0</text>
<text x="637.4" y="181.05" font-size="16">0.5</text>
<text x="637.4" y="426.6" font-size="16">-0.5</text>
<text x="637.4" y="386.7" font-size="16">0.0</text>
<text x="637.4" y="346.8" font-size="16">0.5</text>
<text x="637.4" y="306.9" font-size="16">1.0</text>
<text x="41.1" y="443.8" font-size="16" text-anchor="middle">0.0</text>
<text x="157.3" y="443.8" font-size="16" text-anchor="middle">0.2</text>
<text x="273.5" y="443.8" font-size="16" text-anchor="middle">0.4</text>
<text x="389.7" y="443.8" font-size="16" text-anchor="middle">0.6</text>
<text x="505.9" y="443.8" font-size="16" text-anchor="middle">0.8</text>
<text x="622.1" y="443.8" font-size="16" text-anchor="middle">1.0</text>
<text x="331.5" y="463" font-size="16" text-anchor="middle">Rotational Phase</text>
<text transform="translate(681.8 214.1) rotate(-90)" font-size="16.4" text-anchor="middle">Longitudinal magnetic field strength [kG]</text>
<text x="-0.7" y="14.9" font-size="27">a</text>
<text x="-0.5" y="157" font-size="27">b</text>
<text x="-0.5" y="300" font-size="27">c</text>
<text x="53.6" y="26.8" font-size="21.5">AD Leo</text>
<text x="53.6" y="168.9" font-size="21.5">YZ CMi</text>
<text x="53.7" y="311.8" font-size="21.5">EV Lac</text>
<text x="170.3" y="169.9" font-size="10.8" fill="#222">Photosphere</text>
<text x="265.4" y="169.9" font-size="10.8" fill="#222">Lower Chromosphere</text>
<text x="403.5" y="169.9" font-size="10.8" fill="#222">Middle Chromosphere</text>
</g>
</svg></body></html>
